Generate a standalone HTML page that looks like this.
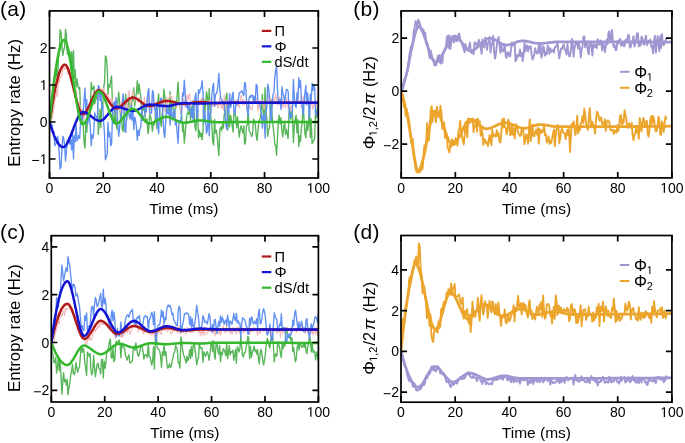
<!DOCTYPE html>
<html><head><meta charset="utf-8"><style>
html,body{margin:0;padding:0;background:#fff;width:685px;height:443px;overflow:hidden}
svg{display:block;filter:blur(0.35px)}
text{font-family:"Liberation Sans", sans-serif}
</style></head><body>
<svg width="685" height="443" viewBox="0 0 685 443" font-family="Liberation Sans, sans-serif" fill="#000"><defs>
<clipPath id="clipa"><rect x="49.5" y="10.9" width="268.80" height="167.10"/></clipPath>
<clipPath id="clipb"><rect x="401.2" y="10.9" width="270.70" height="167.00"/></clipPath>
<clipPath id="clipc"><rect x="51.3" y="235.7" width="267.10" height="166.30"/></clipPath>
<clipPath id="clipd"><rect x="401.0" y="235.5" width="270.90" height="166.70"/></clipPath>
</defs>
<polyline clip-path="url(#clipa)" points="49.5,122.4 50.4,120.9 51.3,118.1 52.2,115.2 53.0,103.5 53.9,98.7 54.8,76.9 55.7,76.0 56.6,69.9 57.5,82.4 58.4,59.5 59.3,49.0 60.1,29.6 61.0,32.0 61.9,46.1 62.8,55.5 63.7,50.4 64.6,46.5 65.5,29.4 66.4,35.2 67.2,53.0 68.1,55.1 69.0,52.6 69.9,52.0 70.8,63.4 71.7,51.7 72.6,70.8 73.5,50.7 74.3,78.4 75.2,69.6 76.1,86.8 77.0,78.9 77.9,86.2 78.8,88.9 79.7,87.3 80.5,109.8 81.4,116.1 82.3,111.3 83.2,126.1 84.1,142.6 85.0,148.1 85.9,121.4 86.8,132.3 87.6,116.7 88.5,118.8 89.4,119.2 90.3,111.2 91.2,82.3 92.1,89.3 93.0,89.2 93.9,86.0 94.7,103.9 95.6,99.6 96.5,98.1 97.4,92.2 98.3,134.4 99.2,123.3 100.1,109.3 100.9,127.4 101.8,102.4 102.7,108.2 103.6,88.3 104.5,82.6 105.4,55.9 106.3,57.9 107.2,67.5 108.0,94.2 108.9,84.6 109.8,87.3 110.7,80.2 111.6,75.9 112.5,108.5 113.4,123.4 114.3,123.6 115.1,109.9 116.0,123.9 116.9,129.0 117.8,102.5 118.7,91.9 119.6,102.8 120.5,117.1 121.4,109.6 122.2,128.8 123.1,131.6 124.0,117.5 124.9,102.7 125.8,94.5 126.7,120.0 127.6,109.3 128.4,103.9 129.3,96.1 130.2,110.8 131.1,118.1 132.0,96.9 132.9,100.6 133.8,87.8 134.7,106.1 135.5,98.1 136.4,93.5 137.3,80.8 138.2,93.8 139.1,84.0 140.0,91.6 140.9,96.6 141.8,114.3 142.6,109.5 143.5,110.1 144.4,104.0 145.3,119.4 146.2,121.0 147.1,118.8 148.0,133.5 148.8,129.3 149.7,114.6 150.6,116.7 151.5,121.8 152.4,131.3 153.3,124.1 154.2,125.0 155.1,120.1 155.9,106.0 156.8,128.3 157.7,101.9 158.6,94.0 159.5,109.9 160.4,121.2 161.3,126.4 162.2,114.5 163.0,107.8 163.9,88.9 164.8,96.0 165.7,108.6 166.6,113.1 167.5,112.9 168.4,106.0 169.3,111.6 170.1,91.7 171.0,114.8 171.9,103.0 172.8,103.9 173.7,116.1 174.6,117.5 175.5,101.2 176.3,107.9 177.2,93.7 178.1,81.9 179.0,102.4 179.9,106.4 180.8,112.5 181.7,115.1 182.6,131.5 183.4,124.8 184.3,143.1 185.2,133.8 186.1,122.1 187.0,114.6 187.9,112.0 188.8,114.3 189.7,106.1 190.5,119.7 191.4,106.8 192.3,117.1 193.2,100.3 194.1,113.6 195.0,126.5 195.9,130.8 196.7,113.1 197.6,109.2 198.5,138.0 199.4,130.6 200.3,136.6 201.2,133.2 202.1,139.6 203.0,130.0 203.8,99.3 204.7,113.2 205.6,104.3 206.5,91.6 207.4,96.6 208.3,117.1 209.2,88.6 210.1,109.1 210.9,117.8 211.8,125.4 212.7,141.2 213.6,145.1 214.5,119.4 215.4,133.1 216.3,130.1 217.2,136.5 218.0,146.2 218.9,155.6 219.8,129.8 220.7,127.2 221.6,130.7 222.5,124.1 223.4,128.1 224.2,114.1 225.1,115.9 226.0,97.7 226.9,92.9 227.8,130.0 228.7,110.8 229.6,126.8 230.5,115.1 231.3,118.9 232.2,125.9 233.1,132.0 234.0,111.1 234.9,111.2 235.8,118.1 236.7,127.7 237.6,116.7 238.4,127.6 239.3,137.0 240.2,130.1 241.1,125.6 242.0,129.7 242.9,133.1 243.8,125.9 244.6,144.3 245.5,142.3 246.4,126.0 247.3,125.3 248.2,108.4 249.1,130.7 250.0,132.2 250.9,134.1 251.7,136.5 252.6,133.9 253.5,119.2 254.4,120.6 255.3,123.7 256.2,135.5 257.1,140.5 258.0,130.3 258.8,121.7 259.7,119.2 260.6,117.2 261.5,108.4 262.4,94.1 263.3,114.3 264.2,115.6 265.1,87.8 265.9,112.6 266.8,119.1 267.7,136.3 268.6,129.1 269.5,128.0 270.4,108.6 271.3,100.2 272.1,116.4 273.0,125.7 273.9,133.4 274.8,144.3 275.7,145.5 276.6,155.3 277.5,136.7 278.4,119.7 279.2,115.1 280.1,123.9 281.0,117.9 281.9,131.2 282.8,136.8 283.7,127.2 284.6,122.5 285.5,134.5 286.3,129.4 287.2,133.8 288.1,138.6 289.0,113.6 289.9,107.9 290.8,119.2 291.7,111.2 292.5,115.2 293.4,142.5 294.3,126.9 295.2,119.2 296.1,115.1 297.0,132.9 297.9,119.5 298.8,146.3 299.6,135.9 300.5,141.7 301.4,128.2 302.3,120.7 303.2,103.5 304.1,120.8 305.0,134.2 305.9,137.8 306.7,122.2 307.6,130.5 308.5,124.1 309.4,105.5 310.3,137.5 311.2,119.0 312.1,143.8 313.0,141.2 313.8,140.4 314.7,138.5 315.6,109.1 316.5,117.8 317.4,107.6 318.3,111.2" fill="none" stroke="#55b557" stroke-width="1.35" stroke-linejoin="round" stroke-opacity="1.0"/>
<polyline clip-path="url(#clipa)" points="49.5,122.0 50.4,120.7 51.3,120.7 52.2,118.5 53.0,112.8 53.9,108.4 54.8,100.5 55.7,97.8 56.6,90.6 57.5,96.5 58.4,79.4 59.3,82.7 60.1,76.6 61.0,77.0 61.9,75.4 62.8,69.9 63.7,66.7 64.6,69.5 65.5,68.4 66.4,64.6 67.2,70.9 68.1,74.3 69.0,67.8 69.9,74.0 70.8,81.4 71.7,79.6 72.6,81.2 73.5,87.5 74.3,92.2 75.2,89.5 76.1,89.5 77.0,97.8 77.9,103.4 78.8,102.0 79.7,103.7 80.5,110.7 81.4,109.5 82.3,109.2 83.2,115.9 84.1,119.2 85.0,114.3 85.9,114.3 86.8,109.9 87.6,118.9 88.5,114.8 89.4,113.9 90.3,116.0 91.2,106.0 92.1,102.2 93.0,105.6 93.9,94.3 94.7,94.7 95.6,93.7 96.5,92.9 97.4,89.0 98.3,97.8 99.2,88.4 100.1,87.9 100.9,98.2 101.8,89.0 102.7,92.1 103.6,88.1 104.5,94.5 105.4,93.6 106.3,93.2 107.2,99.9 108.0,94.6 108.9,99.1 109.8,97.8 110.7,103.8 111.6,97.8 112.5,101.2 113.4,105.9 114.3,103.2 115.1,101.2 116.0,99.4 116.9,115.3 117.8,104.2 118.7,106.1 119.6,108.5 120.5,112.4 121.4,101.4 122.2,112.5 123.1,103.3 124.0,99.1 124.9,111.9 125.8,104.9 126.7,108.8 127.6,100.7 128.4,93.8 129.3,90.6 130.2,107.9 131.1,101.6 132.0,95.0 132.9,90.4 133.8,95.7 134.7,101.1 135.5,96.2 136.4,97.9 137.3,99.1 138.2,102.1 139.1,97.3 140.0,98.3 140.9,100.8 141.8,102.1 142.6,107.8 143.5,104.7 144.4,97.4 145.3,104.7 146.2,111.2 147.1,98.6 148.0,102.9 148.8,95.8 149.7,105.7 150.6,108.3 151.5,112.9 152.4,99.7 153.3,94.4 154.2,109.5 155.1,108.4 155.9,102.2 156.8,108.6 157.7,105.6 158.6,105.6 159.5,102.6 160.4,98.0 161.3,102.7 162.2,98.1 163.0,104.0 163.9,100.2 164.8,111.4 165.7,108.0 166.6,97.3 167.5,103.7 168.4,98.2 169.3,98.4 170.1,94.8 171.0,97.3 171.9,96.5 172.8,101.9 173.7,104.9 174.6,105.2 175.5,104.3 176.3,107.5 177.2,105.1 178.1,103.2 179.0,101.8 179.9,104.7 180.8,112.3 181.7,103.9 182.6,102.6 183.4,98.7 184.3,101.2 185.2,106.9 186.1,107.2 187.0,94.5 187.9,100.2 188.8,95.2 189.7,93.7 190.5,107.2 191.4,101.5 192.3,101.0 193.2,100.4 194.1,100.4 195.0,101.8 195.9,101.8 196.7,109.4 197.6,103.1 198.5,105.7 199.4,101.6 200.3,104.2 201.2,99.2 202.1,98.3 203.0,100.6 203.8,100.6 204.7,101.7 205.6,104.2 206.5,103.0 207.4,104.6 208.3,100.6 209.2,102.4 210.1,99.9 210.9,108.8 211.8,98.7 212.7,106.3 213.6,106.3 214.5,103.9 215.4,105.6 216.3,101.8 217.2,105.7 218.0,108.0 218.9,107.0 219.8,97.1 220.7,102.9 221.6,108.4 222.5,103.1 223.4,110.2 224.2,94.9 225.1,110.0 226.0,100.8 226.9,100.5 227.8,109.6 228.7,101.6 229.6,98.4 230.5,100.8 231.3,101.7 232.2,98.6 233.1,102.1 234.0,101.3 234.9,103.4 235.8,99.9 236.7,107.0 237.6,99.2 238.4,105.0 239.3,107.7 240.2,101.1 241.1,95.1 242.0,98.4 242.9,105.1 243.8,99.6 244.6,104.8 245.5,103.3 246.4,102.4 247.3,113.2 248.2,101.9 249.1,107.4 250.0,105.9 250.9,109.4 251.7,109.6 252.6,107.0 253.5,99.1 254.4,95.3 255.3,102.9 256.2,97.9 257.1,103.9 258.0,111.3 258.8,102.1 259.7,100.8 260.6,104.7 261.5,101.4 262.4,100.2 263.3,106.6 264.2,109.4 265.1,103.7 265.9,103.7 266.8,104.3 267.7,98.4 268.6,95.1 269.5,104.6 270.4,99.6 271.3,98.6 272.1,99.6 273.0,98.1 273.9,104.5 274.8,99.5 275.7,93.8 276.6,99.2 277.5,105.5 278.4,100.1 279.2,97.2 280.1,101.1 281.0,105.3 281.9,95.9 282.8,108.3 283.7,100.5 284.6,102.8 285.5,108.0 286.3,97.4 287.2,101.2 288.1,107.9 289.0,100.1 289.9,104.7 290.8,111.2 291.7,105.8 292.5,101.6 293.4,100.0 294.3,102.0 295.2,102.6 296.1,100.7 297.0,103.7 297.9,97.6 298.8,102.1 299.6,101.5 300.5,100.4 301.4,107.4 302.3,105.9 303.2,96.1 304.1,101.3 305.0,104.0 305.9,101.3 306.7,104.9 307.6,101.5 308.5,105.7 309.4,101.6 310.3,109.7 311.2,96.9 312.1,105.0 313.0,109.7 313.8,103.7 314.7,104.4 315.6,102.1 316.5,107.7 317.4,101.0 318.3,92.2" fill="none" stroke="#f3b5b7" stroke-width="1.1" stroke-linejoin="round" stroke-opacity="1.0"/>
<polyline clip-path="url(#clipa)" points="49.5,121.6 50.4,121.8 51.3,124.6 52.2,125.3 53.0,131.3 53.9,131.6 54.8,145.6 55.7,143.8 56.6,142.7 57.5,136.1 58.4,141.9 59.3,155.7 60.1,169.0 61.0,166.9 61.9,151.3 62.8,136.4 63.7,138.2 64.6,145.0 65.5,161.0 66.4,151.4 67.2,139.9 68.1,141.2 69.0,137.2 69.9,144.0 70.8,140.1 71.7,149.9 72.6,132.5 73.5,158.9 74.3,135.8 75.2,141.9 76.1,124.7 77.0,140.9 77.9,139.2 78.8,135.1 79.7,138.4 80.5,122.8 81.4,115.3 82.3,119.9 83.2,111.7 84.1,98.5 85.0,88.2 85.9,114.9 86.8,99.5 87.6,124.2 88.5,118.1 89.4,116.8 90.3,126.8 91.2,145.6 92.1,134.9 93.0,138.3 93.9,130.2 94.7,112.8 95.6,116.0 96.5,116.8 97.4,118.8 98.3,85.4 99.2,87.0 100.1,100.6 100.9,92.8 101.8,108.7 102.7,105.9 103.6,121.8 104.5,133.8 105.4,159.8 106.3,157.3 107.2,154.4 108.0,122.4 108.9,136.5 109.8,132.5 110.7,145.6 111.6,143.9 112.5,114.7 113.4,104.5 114.3,101.7 115.1,113.3 116.0,97.5 116.9,108.3 117.8,123.8 118.7,136.2 119.6,127.7 120.5,117.3 121.4,113.8 122.2,105.7 123.1,93.7 124.0,103.6 124.9,131.1 125.8,132.4 126.7,110.9 127.6,113.3 128.4,111.9 129.3,116.5 130.2,119.1 131.1,105.5 132.0,120.1 132.9,111.9 133.8,129.8 134.7,117.1 135.5,120.1 136.4,126.4 137.3,140.3 138.2,130.3 139.1,135.3 140.0,128.7 140.9,126.2 141.8,109.8 142.6,120.3 143.5,116.6 144.4,115.4 145.3,107.2 146.2,112.2 147.1,101.8 148.0,91.4 148.8,88.5 149.7,113.1 150.6,113.6 151.5,113.1 152.4,90.4 153.3,92.3 154.2,106.4 155.1,110.2 155.9,118.2 156.8,102.3 157.7,125.7 158.6,133.6 159.5,114.8 160.4,98.8 161.3,98.3 162.2,105.6 163.0,118.2 163.9,133.3 164.8,137.4 165.7,121.4 166.6,106.3 167.5,112.8 168.4,114.2 169.3,108.8 170.1,125.1 171.0,104.6 171.9,115.5 172.8,120.0 173.7,110.8 174.6,109.7 175.5,125.1 176.3,121.7 177.2,133.4 178.1,143.3 179.0,121.4 179.9,120.4 180.8,121.8 181.7,110.8 182.6,93.1 183.4,96.0 184.3,80.1 185.2,95.1 186.1,107.1 187.0,101.9 187.9,110.3 188.8,102.9 189.7,109.6 190.5,109.5 191.4,116.8 192.3,105.9 193.2,122.1 194.1,108.7 195.0,97.3 195.9,93.0 196.7,118.3 197.6,115.9 198.5,89.7 199.4,93.0 200.3,89.6 201.2,87.9 202.1,80.7 203.0,92.6 203.8,123.3 204.7,110.5 205.6,121.9 206.5,133.4 207.4,130.0 208.3,105.5 209.2,135.8 210.1,112.9 210.9,113.0 211.8,95.3 212.7,87.2 213.6,83.2 214.5,106.5 215.4,94.5 216.3,93.7 217.2,91.2 218.0,83.8 218.9,73.4 219.8,89.3 220.7,97.8 221.6,99.7 222.5,100.9 223.4,104.1 224.2,102.8 225.1,116.0 226.0,125.2 226.9,129.7 227.8,101.5 228.7,112.8 229.6,93.6 230.5,107.6 231.3,104.8 232.2,94.7 233.1,92.1 234.0,112.2 234.9,114.2 235.8,103.8 236.7,101.3 237.6,104.5 238.4,99.4 239.3,92.6 240.2,93.0 241.1,91.5 242.0,90.7 242.9,93.9 243.8,95.7 244.6,82.5 245.5,83.0 246.4,98.4 247.3,109.9 248.2,115.5 249.1,98.7 250.0,95.7 250.9,97.3 251.7,95.1 252.6,95.1 253.5,101.9 254.4,96.6 255.3,101.1 256.2,84.4 257.1,85.4 258.0,103.0 258.8,102.4 259.7,103.6 260.6,109.5 261.5,115.0 262.4,128.1 263.3,114.4 264.2,115.8 265.1,138.0 265.9,113.1 266.8,107.2 267.7,84.1 268.6,87.9 269.5,98.6 270.4,113.1 271.3,120.4 272.1,105.2 273.0,94.4 273.9,93.1 274.8,77.2 275.7,70.2 276.6,65.9 277.5,90.8 278.4,102.3 279.2,104.0 280.1,99.2 281.0,109.4 281.9,86.7 282.8,93.5 283.7,95.4 284.6,102.3 285.5,95.5 286.3,90.0 287.2,89.4 288.1,91.3 289.0,108.5 289.9,118.7 290.8,113.9 291.7,116.6 292.5,108.4 293.4,79.5 294.3,97.1 295.2,105.4 296.1,107.6 297.0,92.8 297.9,100.1 298.8,77.8 299.6,87.6 300.5,80.7 301.4,101.2 302.3,107.1 303.2,114.6 304.1,102.5 305.0,91.8 305.9,85.5 306.7,104.7 307.6,93.0 308.5,103.5 309.4,118.0 310.3,94.2 311.2,100.0 312.1,83.2 313.0,90.5 313.8,85.3 314.7,87.9 315.6,115.0 316.5,111.9 317.4,115.5 318.3,102.9" fill="none" stroke="#5f8ff2" stroke-width="1.35" stroke-linejoin="round" stroke-opacity="1.0"/>
<polyline clip-path="url(#clipa)" points="49.5,122.0 50.0,118.4 50.6,114.9 51.1,111.5 51.7,108.2 52.2,105.0 52.7,101.9 53.3,98.9 53.8,96.0 54.3,93.2 54.9,90.5 55.4,88.0 56.0,85.5 56.5,83.2 57.0,81.0 57.6,78.9 58.1,76.9 58.6,75.1 59.2,73.4 59.7,71.9 60.3,70.5 60.8,69.2 61.3,68.1 61.9,67.1 62.4,66.3 62.9,65.7 63.5,65.2 64.0,64.8 64.6,64.7 65.1,64.7 65.6,64.9 66.2,65.4 66.7,66.2 67.2,67.1 67.8,68.2 68.3,69.5 68.9,71.0 69.4,72.6 69.9,74.4 70.5,76.2 71.0,78.2 71.5,80.2 72.1,82.3 72.6,84.5 73.2,86.7 73.7,88.9 74.2,91.1 74.8,93.3 75.3,95.5 75.8,97.6 76.4,99.7 76.9,101.7 77.5,103.6 78.0,105.4 78.5,107.1 79.1,108.6 79.6,110.0 80.1,111.2 80.7,112.3 81.2,113.1 81.8,113.7 82.3,114.1 82.8,114.2 83.4,114.1 83.9,113.9 84.4,113.5 85.0,113.0 85.5,112.4 86.1,111.7 86.6,110.8 87.1,109.9 87.7,108.9 88.2,107.8 88.7,106.7 89.3,105.5 89.8,104.3 90.4,103.1 90.9,101.9 91.4,100.7 92.0,99.5 92.5,98.3 93.0,97.2 93.6,96.1 94.1,95.0 94.7,94.1 95.2,93.2 95.7,92.4 96.3,91.7 96.8,91.1 97.3,90.7 97.9,90.4 98.4,90.2 99.0,90.2 99.5,90.3 100.0,90.5 100.6,90.8 101.1,91.1 101.6,91.6 102.2,92.1 102.7,92.6 103.3,93.3 103.8,93.9 104.3,94.6 104.9,95.4 105.4,96.2 105.9,97.0 106.5,97.8 107.0,98.6 107.6,99.5 108.1,100.3 108.6,101.1 109.2,101.9 109.7,102.7 110.2,103.5 110.8,104.2 111.3,104.9 111.9,105.6 112.4,106.1 112.9,106.7 113.5,107.2 114.0,107.6 114.5,107.9 115.1,108.1 115.6,108.3 116.2,108.3 116.7,108.3 117.2,108.2 117.8,108.0 118.3,107.8 118.9,107.6 119.4,107.3 119.9,106.9 120.5,106.5 121.0,106.1 121.5,105.7 122.1,105.2 122.6,104.7 123.2,104.2 123.7,103.7 124.2,103.2 124.8,102.7 125.3,102.2 125.8,101.7 126.4,101.2 126.9,100.7 127.5,100.2 128.0,99.8 128.5,99.4 129.1,99.0 129.6,98.6 130.1,98.3 130.7,98.1 131.2,97.9 131.8,97.7 132.3,97.6 132.8,97.6 133.4,97.6 133.9,97.7 134.4,97.8 135.0,98.0 135.5,98.2 136.1,98.5 136.6,98.8 137.1,99.1 137.7,99.4 138.2,99.8 138.7,100.2 139.3,100.6 139.8,101.0 140.4,101.4 140.9,101.8 141.4,102.3 142.0,102.7 142.5,103.1 143.0,103.5 143.6,103.9 144.1,104.3 144.7,104.6 145.2,104.9 145.7,105.2 146.3,105.5 146.8,105.7 147.3,105.9 147.9,106.0 148.4,106.1 149.0,106.1 149.5,106.1 150.0,106.0 150.6,106.0 151.1,105.9 151.6,105.8 152.2,105.6 152.7,105.5 153.3,105.3 153.8,105.1 154.3,104.9 154.9,104.7 155.4,104.5 155.9,104.3 156.5,104.0 157.0,103.8 157.6,103.6 158.1,103.3 158.6,103.1 159.2,102.8 159.7,102.6 160.2,102.4 160.8,102.2 161.3,102.0 161.9,101.8 162.4,101.6 162.9,101.4 163.5,101.3 164.0,101.2 164.5,101.1 165.1,101.0 165.6,100.9 166.2,100.9 166.7,100.9 167.2,100.9 167.8,101.0 168.3,101.0 168.8,101.1 169.4,101.1 169.9,101.2 170.5,101.3 171.0,101.4 171.5,101.6 172.1,101.7 172.6,101.8 173.1,101.9 173.7,102.1 174.2,102.2 174.8,102.4 175.3,102.5 175.8,102.6 176.4,102.8 176.9,102.9 177.4,103.0 178.0,103.2 178.5,103.3 179.1,103.4 179.6,103.5 180.1,103.6 180.7,103.7 181.2,103.7 181.7,103.8 182.3,103.8 182.8,103.9 183.4,103.9 183.9,103.9 184.4,103.8 185.0,103.8 185.5,103.8 186.1,103.7 186.6,103.7 187.1,103.6 187.7,103.6 188.2,103.5 188.7,103.4 189.3,103.3 189.8,103.3 190.4,103.2 190.9,103.1 191.4,103.0 192.0,102.9 192.5,102.8 193.0,102.7 193.6,102.6 194.1,102.6 194.7,102.5 195.2,102.4 195.7,102.3 196.3,102.3 196.8,102.2 197.3,102.1 197.9,102.1 198.4,102.1 199.0,102.0 199.5,102.0 200.0,102.0 200.6,102.0 201.1,102.0 201.6,102.1 202.2,102.1 202.7,102.1 203.3,102.1 203.8,102.2 204.3,102.2 204.9,102.3 205.4,102.3 205.9,102.4 206.5,102.4 207.0,102.5 207.6,102.5 208.1,102.6 208.6,102.6 209.2,102.7 209.7,102.7 210.2,102.8 210.8,102.8 211.3,102.9 211.9,102.9 212.4,103.0 212.9,103.0 213.5,103.0 214.0,103.1 214.5,103.1 215.1,103.1 215.6,103.1 216.2,103.1 216.7,103.1 217.2,103.1 217.8,103.1 218.3,103.1 218.8,103.1 219.4,103.1 219.9,103.1 220.5,103.1 221.0,103.1 221.5,103.1 222.1,103.1 222.6,103.1 223.1,103.0 223.7,103.0 224.2,103.0 224.8,103.0 225.3,103.0 225.8,103.0 226.4,103.0 226.9,102.9 227.4,102.9 228.0,102.9 228.5,102.9 229.1,102.9 229.6,102.9 230.1,102.9 230.7,102.9 231.2,102.8 231.7,102.8 232.3,102.8 232.8,102.8 233.4,102.8 233.9,102.8 234.4,102.8 235.0,102.8 235.5,102.8 236.0,102.8 236.6,102.8 237.1,102.8 237.7,102.8 238.2,102.8 238.7,102.8 239.3,102.8 239.8,102.8 240.3,102.8 240.9,102.8 241.4,102.8 242.0,102.8 242.5,102.8 243.0,102.8 243.6,102.8 244.1,102.8 244.6,102.8 245.2,102.8 245.7,102.8 246.3,102.8 246.8,102.8 247.3,102.8 247.9,102.8 248.4,102.8 248.9,102.8 249.5,102.8 250.0,102.8 250.6,102.8 251.1,102.8 251.6,102.8 252.2,102.8 252.7,102.8 253.3,102.8 253.8,102.8 254.3,102.8 254.9,102.8 255.4,102.8 255.9,102.8 256.5,102.8 257.0,102.8 257.6,102.8 258.1,102.8 258.6,102.8 259.2,102.8 259.7,102.8 260.2,102.8 260.8,102.8 261.3,102.8 261.9,102.8 262.4,102.8 262.9,102.8 263.5,102.8 264.0,102.8 264.5,102.8 265.1,102.8 265.6,102.8 266.2,102.8 266.7,102.8 267.2,102.8 267.8,102.8 268.3,102.8 268.8,102.8 269.4,102.8 269.9,102.8 270.5,102.8 271.0,102.8 271.5,102.8 272.1,102.8 272.6,102.8 273.1,102.8 273.7,102.8 274.2,102.8 274.8,102.8 275.3,102.8 275.8,102.8 276.4,102.8 276.9,102.8 277.4,102.8 278.0,102.8 278.5,102.8 279.1,102.8 279.6,102.8 280.1,102.8 280.7,102.8 281.2,102.8 281.7,102.8 282.3,102.8 282.8,102.8 283.4,102.8 283.9,102.8 284.4,102.8 285.0,102.8 285.5,102.8 286.0,102.8 286.6,102.8 287.1,102.8 287.7,102.8 288.2,102.8 288.7,102.8 289.3,102.8 289.8,102.8 290.3,102.8 290.9,102.8 291.4,102.8 292.0,102.8 292.5,102.8 293.0,102.8 293.6,102.8 294.1,102.8 294.6,102.8 295.2,102.8 295.7,102.8 296.3,102.8 296.8,102.8 297.3,102.8 297.9,102.8 298.4,102.8 298.9,102.8 299.5,102.8 300.0,102.8 300.6,102.8 301.1,102.8 301.6,102.8 302.2,102.8 302.7,102.8 303.2,102.8 303.8,102.8 304.3,102.8 304.9,102.8 305.4,102.8 305.9,102.8 306.5,102.8 307.0,102.8 307.5,102.8 308.1,102.8 308.6,102.8 309.2,102.8 309.7,102.8 310.2,102.8 310.8,102.8 311.3,102.8 311.8,102.8 312.4,102.8 312.9,102.8 313.5,102.8 314.0,102.8 314.5,102.8 315.1,102.8 315.6,102.8 316.1,102.8 316.7,102.8 317.2,102.8 317.8,102.8 318.3,102.8" fill="none" stroke="#b01a1a" stroke-width="2.5" stroke-linejoin="round" stroke-opacity="1.0"/>
<polyline clip-path="url(#clipa)" points="49.5,122.0 50.0,123.8 50.6,125.5 51.1,127.1 51.7,128.7 52.2,130.3 52.7,131.8 53.3,133.2 53.8,134.6 54.3,135.9 54.9,137.2 55.4,138.4 56.0,139.5 56.5,140.5 57.0,141.5 57.6,142.4 58.1,143.3 58.6,144.0 59.2,144.7 59.7,145.3 60.3,145.8 60.8,146.3 61.3,146.6 61.9,146.9 62.4,147.1 62.9,147.1 63.5,147.1 64.0,147.0 64.6,146.7 65.1,146.3 65.6,145.7 66.2,145.0 66.7,144.2 67.2,143.3 67.8,142.3 68.3,141.3 68.9,140.1 69.4,138.9 69.9,137.6 70.5,136.3 71.0,134.9 71.5,133.5 72.1,132.1 72.6,130.7 73.2,129.2 73.7,127.8 74.2,126.4 74.8,124.9 75.3,123.6 75.8,122.2 76.4,120.9 76.9,119.7 77.5,118.5 78.0,117.4 78.5,116.3 79.1,115.4 79.6,114.5 80.1,113.8 80.7,113.2 81.2,112.7 81.8,112.3 82.3,112.1 82.8,112.0 83.4,112.0 83.9,112.1 84.4,112.2 85.0,112.4 85.5,112.6 86.1,112.8 86.6,113.1 87.1,113.4 87.7,113.7 88.2,114.1 88.7,114.4 89.3,114.8 89.8,115.2 90.4,115.6 90.9,116.0 91.4,116.5 92.0,116.9 92.5,117.3 93.0,117.7 93.6,118.1 94.1,118.5 94.7,118.8 95.2,119.2 95.7,119.5 96.3,119.8 96.8,120.1 97.3,120.3 97.9,120.5 98.4,120.7 99.0,120.8 99.5,120.9 100.0,120.9 100.6,120.8 101.1,120.7 101.6,120.5 102.2,120.2 102.7,119.9 103.3,119.5 103.8,119.1 104.3,118.6 104.9,118.0 105.4,117.4 105.9,116.8 106.5,116.2 107.0,115.5 107.6,114.9 108.1,114.2 108.6,113.5 109.2,112.8 109.7,112.2 110.2,111.5 110.8,110.9 111.3,110.3 111.9,109.7 112.4,109.2 112.9,108.7 113.5,108.2 114.0,107.8 114.5,107.5 115.1,107.2 115.6,107.0 116.2,106.9 116.7,106.8 117.2,106.8 117.8,106.9 118.3,106.9 118.9,107.0 119.4,107.1 119.9,107.3 120.5,107.4 121.0,107.5 121.5,107.7 122.1,107.9 122.6,108.1 123.2,108.3 123.7,108.5 124.2,108.7 124.8,108.9 125.3,109.1 125.8,109.3 126.4,109.5 126.9,109.7 127.5,109.8 128.0,110.0 128.5,110.2 129.1,110.3 129.6,110.5 130.1,110.6 130.7,110.7 131.2,110.8 131.8,110.8 132.3,110.9 132.8,110.9 133.4,110.9 133.9,110.8 134.4,110.7 135.0,110.6 135.5,110.5 136.1,110.3 136.6,110.1 137.1,109.9 137.7,109.6 138.2,109.4 138.7,109.1 139.3,108.8 139.8,108.5 140.4,108.2 140.9,107.9 141.4,107.6 142.0,107.3 142.5,107.0 143.0,106.7 143.6,106.4 144.1,106.2 144.7,105.9 145.2,105.7 145.7,105.4 146.3,105.2 146.8,105.0 147.3,104.9 147.9,104.8 148.4,104.7 149.0,104.6 149.5,104.6 150.0,104.6 150.6,104.6 151.1,104.6 151.6,104.7 152.2,104.7 152.7,104.8 153.3,104.8 153.8,104.8 154.3,104.9 154.9,105.0 155.4,105.0 155.9,105.1 156.5,105.2 157.0,105.2 157.6,105.3 158.1,105.4 158.6,105.4 159.2,105.5 159.7,105.6 160.2,105.6 160.8,105.7 161.3,105.8 161.9,105.8 162.4,105.9 162.9,105.9 163.5,106.0 164.0,106.0 164.5,106.0 165.1,106.1 165.6,106.1 166.2,106.1 166.7,106.1 167.2,106.1 167.8,106.0 168.3,106.0 168.8,105.9 169.4,105.9 169.9,105.8 170.5,105.7 171.0,105.6 171.5,105.5 172.1,105.4 172.6,105.2 173.1,105.1 173.7,105.0 174.2,104.8 174.8,104.7 175.3,104.6 175.8,104.4 176.4,104.3 176.9,104.2 177.4,104.0 178.0,103.9 178.5,103.8 179.1,103.7 179.6,103.6 180.1,103.5 180.7,103.4 181.2,103.3 181.7,103.3 182.3,103.2 182.8,103.2 183.4,103.1 183.9,103.1 184.4,103.1 185.0,103.1 185.5,103.1 186.1,103.1 186.6,103.2 187.1,103.2 187.7,103.2 188.2,103.2 188.7,103.2 189.3,103.2 189.8,103.2 190.4,103.3 190.9,103.3 191.4,103.3 192.0,103.3 192.5,103.3 193.0,103.4 193.6,103.4 194.1,103.4 194.7,103.4 195.2,103.4 195.7,103.4 196.3,103.4 196.8,103.5 197.3,103.5 197.9,103.5 198.4,103.5 199.0,103.5 199.5,103.5 200.0,103.5 200.6,103.5 201.1,103.5 201.6,103.5 202.2,103.5 202.7,103.5 203.3,103.5 203.8,103.5 204.3,103.4 204.9,103.4 205.4,103.4 205.9,103.4 206.5,103.4 207.0,103.4 207.6,103.3 208.1,103.3 208.6,103.3 209.2,103.3 209.7,103.2 210.2,103.2 210.8,103.2 211.3,103.2 211.9,103.1 212.4,103.1 212.9,103.1 213.5,103.1 214.0,103.0 214.5,103.0 215.1,103.0 215.6,103.0 216.2,103.0 216.7,102.9 217.2,102.9 217.8,102.9 218.3,102.9 218.8,102.9 219.4,102.8 219.9,102.8 220.5,102.8 221.0,102.8 221.5,102.8 222.1,102.8 222.6,102.8 223.1,102.8 223.7,102.8 224.2,102.8 224.8,102.8 225.3,102.8 225.8,102.8 226.4,102.8 226.9,102.8 227.4,102.8 228.0,102.8 228.5,102.8 229.1,102.8 229.6,102.8 230.1,102.8 230.7,102.8 231.2,102.8 231.7,102.8 232.3,102.8 232.8,102.8 233.4,102.8 233.9,102.8 234.4,102.8 235.0,102.8 235.5,102.8 236.0,102.8 236.6,102.8 237.1,102.8 237.7,102.8 238.2,102.8 238.7,102.8 239.3,102.8 239.8,102.8 240.3,102.8 240.9,102.8 241.4,102.8 242.0,102.8 242.5,102.8 243.0,102.8 243.6,102.8 244.1,102.8 244.6,102.8 245.2,102.8 245.7,102.8 246.3,102.8 246.8,102.8 247.3,102.8 247.9,102.8 248.4,102.8 248.9,102.8 249.5,102.8 250.0,102.8 250.6,102.8 251.1,102.8 251.6,102.8 252.2,102.8 252.7,102.8 253.3,102.8 253.8,102.8 254.3,102.8 254.9,102.8 255.4,102.8 255.9,102.8 256.5,102.8 257.0,102.8 257.6,102.8 258.1,102.8 258.6,102.8 259.2,102.8 259.7,102.8 260.2,102.8 260.8,102.8 261.3,102.8 261.9,102.8 262.4,102.8 262.9,102.8 263.5,102.8 264.0,102.8 264.5,102.8 265.1,102.8 265.6,102.8 266.2,102.8 266.7,102.8 267.2,102.8 267.8,102.8 268.3,102.8 268.8,102.8 269.4,102.8 269.9,102.8 270.5,102.8 271.0,102.8 271.5,102.8 272.1,102.8 272.6,102.8 273.1,102.8 273.7,102.8 274.2,102.8 274.8,102.8 275.3,102.8 275.8,102.8 276.4,102.8 276.9,102.8 277.4,102.8 278.0,102.8 278.5,102.8 279.1,102.8 279.6,102.8 280.1,102.8 280.7,102.8 281.2,102.8 281.7,102.8 282.3,102.8 282.8,102.8 283.4,102.8 283.9,102.8 284.4,102.8 285.0,102.8 285.5,102.8 286.0,102.8 286.6,102.8 287.1,102.8 287.7,102.8 288.2,102.8 288.7,102.8 289.3,102.8 289.8,102.8 290.3,102.8 290.9,102.8 291.4,102.8 292.0,102.8 292.5,102.8 293.0,102.8 293.6,102.8 294.1,102.8 294.6,102.8 295.2,102.8 295.7,102.8 296.3,102.8 296.8,102.8 297.3,102.8 297.9,102.8 298.4,102.8 298.9,102.8 299.5,102.8 300.0,102.8 300.6,102.8 301.1,102.8 301.6,102.8 302.2,102.8 302.7,102.8 303.2,102.8 303.8,102.8 304.3,102.8 304.9,102.8 305.4,102.8 305.9,102.8 306.5,102.8 307.0,102.8 307.5,102.8 308.1,102.8 308.6,102.8 309.2,102.8 309.7,102.8 310.2,102.8 310.8,102.8 311.3,102.8 311.8,102.8 312.4,102.8 312.9,102.8 313.5,102.8 314.0,102.8 314.5,102.8 315.1,102.8 315.6,102.8 316.1,102.8 316.7,102.8 317.2,102.8 317.8,102.8 318.3,102.8" fill="none" stroke="#1414d4" stroke-width="2.5" stroke-linejoin="round" stroke-opacity="1.0"/>
<polyline clip-path="url(#clipa)" points="49.5,122.0 50.0,116.7 50.6,111.5 51.1,106.4 51.7,101.5 52.2,96.7 52.7,92.1 53.3,87.7 53.8,83.4 54.3,79.3 54.9,75.3 55.4,71.6 56.0,68.0 56.5,64.6 57.0,61.5 57.6,58.5 58.1,55.7 58.6,53.1 59.2,50.7 59.7,48.6 60.3,46.7 60.8,45.0 61.3,43.5 61.9,42.3 62.4,41.3 62.9,40.5 63.5,40.0 64.0,39.9 64.6,40.0 65.1,40.4 65.6,41.3 66.2,42.4 66.7,43.9 67.2,45.8 67.8,47.9 68.3,50.3 68.9,52.9 69.4,55.7 69.9,58.7 70.5,61.9 71.0,65.2 71.5,68.7 72.1,72.2 72.6,75.8 73.2,79.4 73.7,83.1 74.2,86.8 74.8,90.4 75.3,93.9 75.8,97.4 76.4,100.8 76.9,104.0 77.5,107.1 78.0,110.0 78.5,112.8 79.1,115.2 79.6,117.5 80.1,119.4 80.7,121.1 81.2,122.4 81.8,123.4 82.3,124.0 82.8,124.2 83.4,124.1 83.9,123.8 84.4,123.3 85.0,122.6 85.5,121.8 86.1,120.8 86.6,119.7 87.1,118.5 87.7,117.2 88.2,115.7 88.7,114.3 89.3,112.7 89.8,111.1 90.4,109.5 90.9,107.9 91.4,106.2 92.0,104.6 92.5,103.0 93.0,101.5 93.6,100.0 94.1,98.6 94.7,97.2 95.2,96.0 95.7,94.9 96.3,93.9 96.8,93.0 97.3,92.4 97.9,91.9 98.4,91.5 99.0,91.4 99.5,91.4 100.0,91.6 100.6,91.9 101.1,92.4 101.6,93.0 102.2,93.8 102.7,94.7 103.3,95.7 103.8,96.9 104.3,98.1 104.9,99.4 105.4,100.7 105.9,102.1 106.5,103.6 107.0,105.1 107.6,106.6 108.1,108.1 108.6,109.6 109.2,111.1 109.7,112.5 110.2,114.0 110.8,115.3 111.3,116.6 111.9,117.9 112.4,119.0 112.9,120.0 113.5,120.9 114.0,121.7 114.5,122.4 115.1,122.9 115.6,123.3 116.2,123.4 116.7,123.4 117.2,123.3 117.8,123.1 118.3,122.9 118.9,122.5 119.4,122.1 119.9,121.7 120.5,121.1 121.0,120.6 121.5,120.0 122.1,119.3 122.6,118.7 123.2,118.0 123.7,117.3 124.2,116.5 124.8,115.8 125.3,115.1 125.8,114.4 126.4,113.7 126.9,113.0 127.5,112.4 128.0,111.7 128.5,111.2 129.1,110.6 129.6,110.2 130.1,109.7 130.7,109.4 131.2,109.1 131.8,108.9 132.3,108.7 132.8,108.7 133.4,108.7 133.9,108.9 134.4,109.1 135.0,109.4 135.5,109.7 136.1,110.2 136.6,110.7 137.1,111.2 137.7,111.8 138.2,112.4 138.7,113.1 139.3,113.8 139.8,114.5 140.4,115.2 140.9,115.9 141.4,116.7 142.0,117.4 142.5,118.1 143.0,118.8 143.6,119.5 144.1,120.1 144.7,120.7 145.2,121.3 145.7,121.8 146.3,122.2 146.8,122.6 147.3,123.0 147.9,123.2 148.4,123.4 149.0,123.5 149.5,123.5 150.0,123.4 150.6,123.3 151.1,123.2 151.6,123.1 152.2,122.9 152.7,122.7 153.3,122.5 153.8,122.3 154.3,122.0 154.9,121.7 155.4,121.5 155.9,121.2 156.5,120.9 157.0,120.6 157.6,120.3 158.1,120.0 158.6,119.6 159.2,119.3 159.7,119.0 160.2,118.8 160.8,118.5 161.3,118.2 161.9,118.0 162.4,117.7 162.9,117.5 163.5,117.3 164.0,117.2 164.5,117.0 165.1,116.9 165.6,116.9 166.2,116.8 166.7,116.8 167.2,116.9 167.8,116.9 168.3,117.0 168.8,117.1 169.4,117.3 169.9,117.5 170.5,117.6 171.0,117.9 171.5,118.1 172.1,118.3 172.6,118.6 173.1,118.8 173.7,119.1 174.2,119.4 174.8,119.6 175.3,119.9 175.8,120.2 176.4,120.5 176.9,120.7 177.4,121.0 178.0,121.2 178.5,121.5 179.1,121.7 179.6,121.9 180.1,122.1 180.7,122.3 181.2,122.4 181.7,122.5 182.3,122.6 182.8,122.7 183.4,122.7 183.9,122.7 184.4,122.7 185.0,122.7 185.5,122.6 186.1,122.6 186.6,122.5 187.1,122.5 187.7,122.4 188.2,122.3 188.7,122.2 189.3,122.1 189.8,122.0 190.4,121.9 190.9,121.8 191.4,121.7 192.0,121.6 192.5,121.5 193.0,121.4 193.6,121.3 194.1,121.2 194.7,121.1 195.2,121.0 195.7,120.9 196.3,120.8 196.8,120.7 197.3,120.7 197.9,120.6 198.4,120.6 199.0,120.5 199.5,120.5 200.0,120.5 200.6,120.5 201.1,120.5 201.6,120.6 202.2,120.6 202.7,120.6 203.3,120.7 203.8,120.7 204.3,120.8 204.9,120.8 205.4,120.9 205.9,121.0 206.5,121.0 207.0,121.1 207.6,121.2 208.1,121.3 208.6,121.3 209.2,121.4 209.7,121.5 210.2,121.6 210.8,121.7 211.3,121.7 211.9,121.8 212.4,121.9 212.9,121.9 213.5,122.0 214.0,122.0 214.5,122.1 215.1,122.1 215.6,122.2 216.2,122.2 216.7,122.2 217.2,122.2 217.8,122.2 218.3,122.2 218.8,122.3 219.4,122.3 219.9,122.3 220.5,122.3 221.0,122.3 221.5,122.3 222.1,122.3 222.6,122.3 223.1,122.3 223.7,122.3 224.2,122.3 224.8,122.2 225.3,122.2 225.8,122.2 226.4,122.2 226.9,122.2 227.4,122.2 228.0,122.2 228.5,122.1 229.1,122.1 229.6,122.1 230.1,122.1 230.7,122.1 231.2,122.1 231.7,122.1 232.3,122.1 232.8,122.0 233.4,122.0 233.9,122.0 234.4,122.0 235.0,122.0 235.5,122.0 236.0,122.0 236.6,122.0 237.1,122.0 237.7,122.0 238.2,122.0 238.7,122.0 239.3,122.0 239.8,122.0 240.3,122.0 240.9,122.0 241.4,122.0 242.0,122.0 242.5,122.0 243.0,122.0 243.6,122.0 244.1,122.0 244.6,122.0 245.2,122.0 245.7,122.0 246.3,122.0 246.8,122.0 247.3,122.0 247.9,122.0 248.4,122.0 248.9,122.0 249.5,122.0 250.0,122.0 250.6,122.0 251.1,122.0 251.6,122.0 252.2,122.0 252.7,122.0 253.3,122.0 253.8,122.0 254.3,122.0 254.9,122.0 255.4,122.0 255.9,122.0 256.5,122.0 257.0,122.0 257.6,122.0 258.1,122.0 258.6,122.0 259.2,122.0 259.7,122.0 260.2,122.0 260.8,122.0 261.3,122.0 261.9,122.0 262.4,122.0 262.9,122.0 263.5,122.0 264.0,122.0 264.5,122.0 265.1,122.0 265.6,122.0 266.2,122.0 266.7,122.0 267.2,122.0 267.8,122.0 268.3,122.0 268.8,122.0 269.4,122.0 269.9,122.0 270.5,122.0 271.0,122.0 271.5,122.0 272.1,122.0 272.6,122.0 273.1,122.0 273.7,122.0 274.2,122.0 274.8,122.0 275.3,122.0 275.8,122.0 276.4,122.0 276.9,122.0 277.4,122.0 278.0,122.0 278.5,122.0 279.1,122.0 279.6,122.0 280.1,122.0 280.7,122.0 281.2,122.0 281.7,122.0 282.3,122.0 282.8,122.0 283.4,122.0 283.9,122.0 284.4,122.0 285.0,122.0 285.5,122.0 286.0,122.0 286.6,122.0 287.1,122.0 287.7,122.0 288.2,122.0 288.7,122.0 289.3,122.0 289.8,122.0 290.3,122.0 290.9,122.0 291.4,122.0 292.0,122.0 292.5,122.0 293.0,122.0 293.6,122.0 294.1,122.0 294.6,122.0 295.2,122.0 295.7,122.0 296.3,122.0 296.8,122.0 297.3,122.0 297.9,122.0 298.4,122.0 298.9,122.0 299.5,122.0 300.0,122.0 300.6,122.0 301.1,122.0 301.6,122.0 302.2,122.0 302.7,122.0 303.2,122.0 303.8,122.0 304.3,122.0 304.9,122.0 305.4,122.0 305.9,122.0 306.5,122.0 307.0,122.0 307.5,122.0 308.1,122.0 308.6,122.0 309.2,122.0 309.7,122.0 310.2,122.0 310.8,122.0 311.3,122.0 311.8,122.0 312.4,122.0 312.9,122.0 313.5,122.0 314.0,122.0 314.5,122.0 315.1,122.0 315.6,122.0 316.1,122.0 316.7,122.0 317.2,122.0 317.8,122.0 318.3,122.0" fill="none" stroke="#34b82c" stroke-width="2.5" stroke-linejoin="round" stroke-opacity="1.0"/>
<polyline clip-path="url(#clipb)" points="401.2,90.3 402.1,86.5 403.0,88.6 403.9,79.9 404.8,79.4 405.7,77.7 406.6,74.3 407.5,71.0 408.3,64.4 409.2,56.1 410.1,51.0 411.0,46.4 411.9,49.1 412.8,44.5 413.7,31.1 414.6,27.8 415.5,21.3 416.4,22.0 417.3,27.0 418.2,19.7 419.1,21.5 420.0,24.2 420.9,28.8 421.7,28.2 422.6,30.4 423.5,29.6 424.4,34.2 425.3,32.9 426.2,43.4 427.1,42.5 428.0,45.4 428.9,54.2 429.8,58.2 430.7,50.5 431.6,54.3 432.5,59.6 433.4,58.8 434.3,65.3 435.1,61.5 436.0,65.5 436.9,60.7 437.8,55.7 438.7,61.5 439.6,55.0 440.5,63.6 441.4,59.2 442.3,62.8 443.2,54.2 444.1,50.9 445.0,50.6 445.9,48.5 446.8,37.4 447.7,35.7 448.5,48.0 449.4,35.4 450.3,49.1 451.2,43.3 452.1,38.5 453.0,36.5 453.9,42.5 454.8,40.7 455.7,36.6 456.6,41.0 457.5,41.1 458.4,34.3 459.3,33.6 460.2,40.2 461.1,41.4 461.9,43.0 462.8,46.8 463.7,48.8 464.6,52.3 465.5,44.3 466.4,48.7 467.3,50.1 468.2,48.7 469.1,46.8 470.0,42.6 470.9,52.0 471.8,53.1 472.7,49.9 473.6,54.2 474.5,42.2 475.3,42.7 476.2,43.9 477.1,47.5 478.0,42.3 478.9,39.8 479.8,42.5 480.7,47.3 481.6,53.9 482.5,39.5 483.4,45.4 484.3,47.5 485.2,37.6 486.1,40.4 487.0,49.8 487.9,43.1 488.7,42.7 489.6,37.1 490.5,52.6 491.4,45.6 492.3,43.2 493.2,35.9 494.1,51.1 495.0,58.6 495.9,54.8 496.8,45.0 497.7,41.2 498.6,36.9 499.5,45.4 500.4,52.8 501.3,44.7 502.1,49.6 503.0,51.5 503.9,50.2 504.8,44.2 505.7,56.4 506.6,57.8 507.5,52.4 508.4,52.2 509.3,56.4 510.2,56.4 511.1,48.6 512.0,42.5 512.9,45.4 513.8,45.4 514.7,43.5 515.5,61.3 516.4,59.5 517.3,54.6 518.2,56.7 519.1,55.1 520.0,49.5 520.9,56.3 521.8,52.9 522.7,61.2 523.6,54.8 524.5,41.9 525.4,51.3 526.3,47.2 527.2,45.3 528.1,51.6 528.9,46.4 529.8,48.0 530.7,46.2 531.6,54.2 532.5,59.5 533.4,57.4 534.3,54.2 535.2,48.2 536.1,52.2 537.0,53.6 537.9,51.9 538.8,45.3 539.7,53.3 540.6,43.4 541.4,57.8 542.3,54.7 543.2,46.2 544.1,48.0 545.0,55.6 545.9,52.1 546.8,54.3 547.7,45.7 548.6,47.2 549.5,53.9 550.4,48.4 551.3,52.0 552.2,50.5 553.1,49.7 554.0,52.7 554.8,47.2 555.7,46.5 556.6,46.3 557.5,43.0 558.4,51.2 559.3,58.3 560.2,52.9 561.1,48.5 562.0,48.9 562.9,45.7 563.8,44.5 564.7,49.7 565.6,50.5 566.5,54.6 567.4,44.0 568.2,50.9 569.1,56.2 570.0,56.0 570.9,50.6 571.8,39.0 572.7,43.3 573.6,56.7 574.5,48.2 575.4,44.7 576.3,42.1 577.2,43.6 578.1,48.5 579.0,43.0 579.9,48.5 580.8,57.5 581.6,49.1 582.5,47.0 583.4,37.1 584.3,36.3 585.2,47.3 586.1,41.4 587.0,42.0 587.9,51.1 588.8,54.4 589.7,43.3 590.6,41.4 591.5,46.5 592.4,55.6 593.3,43.6 594.2,45.6 595.0,47.3 595.9,44.6 596.8,48.1 597.7,39.1 598.6,41.7 599.5,44.8 600.4,40.4 601.3,42.5 602.2,50.5 603.1,43.4 604.0,45.2 604.9,52.2 605.8,46.0 606.7,39.8 607.6,44.3 608.4,33.0 609.3,31.3 610.2,42.2 611.1,37.5 612.0,30.0 612.9,42.9 613.8,47.0 614.7,45.0 615.6,50.2 616.5,49.8 617.4,41.1 618.3,43.6 619.2,40.0 620.1,38.9 621.0,45.7 621.8,43.0 622.7,43.4 623.6,45.8 624.5,46.3 625.4,40.0 626.3,41.8 627.2,39.0 628.1,34.9 629.0,35.5 629.9,47.6 630.8,46.9 631.7,43.1 632.6,40.2 633.5,36.3 634.4,46.5 635.2,44.1 636.1,39.4 637.0,33.4 637.9,33.2 638.8,46.4 639.7,43.3 640.6,45.5 641.5,36.5 642.4,38.3 643.3,43.3 644.2,44.7 645.1,39.2 646.0,35.7 646.9,45.2 647.8,43.3 648.6,40.6 649.5,40.7 650.4,39.6 651.3,46.9 652.2,46.0 653.1,53.4 654.0,41.2 654.9,35.8 655.8,52.6 656.7,45.2 657.6,36.2 658.5,42.3 659.4,51.3 660.3,35.9 661.2,47.9 662.0,34.0 662.9,44.0 663.8,45.2 664.7,41.1 665.6,40.7 666.5,37.5" fill="none" stroke="#9f97d1" stroke-width="1.9" stroke-linejoin="round" stroke-opacity="1.0"/>
<polyline clip-path="url(#clipb)" points="401.2,91.2 401.7,89.9 402.3,88.5 402.8,86.9 403.4,85.3 403.9,83.5 404.4,81.6 405.0,79.7 405.5,77.6 406.1,75.5 406.6,73.3 407.2,71.1 407.7,68.8 408.2,66.4 408.8,63.6 409.3,60.5 409.9,57.3 410.4,54.2 410.9,51.3 411.5,48.8 412.0,46.5 412.6,44.2 413.1,41.9 413.7,39.5 414.2,37.3 414.7,35.1 415.3,33.1 415.8,31.3 416.4,29.7 416.9,28.4 417.4,27.4 418.0,26.8 418.5,26.5 419.1,26.6 419.6,27.0 420.1,27.5 420.7,28.1 421.2,29.0 421.8,29.9 422.3,31.1 422.9,32.3 423.4,33.6 423.9,35.1 424.5,36.6 425.0,38.2 425.6,39.8 426.1,41.5 426.6,43.2 427.2,44.9 427.7,46.6 428.3,48.2 428.8,49.9 429.4,51.5 429.9,53.0 430.4,54.5 431.0,55.9 431.5,57.2 432.1,58.4 432.6,59.4 433.1,60.3 433.7,61.1 434.2,61.7 434.8,62.1 435.3,62.3 435.8,62.3 436.4,62.2 436.9,61.9 437.5,61.6 438.0,61.1 438.6,60.6 439.1,59.9 439.6,59.2 440.2,58.4 440.7,57.6 441.3,56.6 441.8,55.7 442.3,54.7 442.9,53.6 443.4,52.5 444.0,51.4 444.5,50.3 445.1,49.2 445.6,48.1 446.1,47.0 446.7,45.9 447.2,44.8 447.8,43.7 448.3,42.7 448.8,41.7 449.4,40.8 449.9,40.0 450.5,39.2 451.0,38.5 451.6,37.8 452.1,37.3 452.6,36.8 453.2,36.5 453.7,36.2 454.3,36.1 454.8,36.1 455.3,36.2 455.9,36.4 456.4,36.7 457.0,37.0 457.5,37.4 458.0,37.9 458.6,38.5 459.1,39.1 459.7,39.7 460.2,40.4 460.8,41.1 461.3,41.8 461.8,42.6 462.4,43.3 462.9,44.1 463.5,44.8 464.0,45.6 464.5,46.3 465.1,47.0 465.6,47.6 466.2,48.2 466.7,48.8 467.3,49.3 467.8,49.8 468.3,50.2 468.9,50.5 469.4,50.7 470.0,50.9 470.5,50.9 471.0,50.9 471.6,50.8 472.1,50.7 472.7,50.5 473.2,50.3 473.7,50.0 474.3,49.7 474.8,49.3 475.4,48.9 475.9,48.5 476.5,48.1 477.0,47.6 477.5,47.1 478.1,46.6 478.6,46.1 479.2,45.6 479.7,45.1 480.2,44.6 480.8,44.0 481.3,43.5 481.9,43.0 482.4,42.5 483.0,42.0 483.5,41.5 484.0,41.0 484.6,40.6 485.1,40.2 485.7,39.8 486.2,39.5 486.7,39.1 487.3,38.9 487.8,38.6 488.4,38.5 488.9,38.3 489.4,38.2 490.0,38.2 490.5,38.2 491.1,38.3 491.6,38.4 492.2,38.5 492.7,38.7 493.2,38.9 493.8,39.2 494.3,39.4 494.9,39.7 495.4,40.0 495.9,40.3 496.5,40.6 497.0,41.0 497.6,41.3 498.1,41.6 498.7,42.0 499.2,42.3 499.7,42.7 500.3,43.0 500.8,43.3 501.4,43.6 501.9,43.9 502.4,44.1 503.0,44.4 503.5,44.6 504.1,44.8 504.6,44.9 505.1,45.0 505.7,45.1 506.2,45.1 506.8,45.1 507.3,45.0 507.9,45.0 508.4,44.9 508.9,44.8 509.5,44.6 510.0,44.5 510.6,44.3 511.1,44.2 511.6,44.0 512.2,43.8 512.7,43.6 513.3,43.4 513.8,43.2 514.4,43.0 514.9,42.8 515.4,42.5 516.0,42.3 516.5,42.1 517.1,41.9 517.6,41.8 518.1,41.6 518.7,41.4 519.2,41.3 519.8,41.2 520.3,41.1 520.8,41.0 521.4,40.9 521.9,40.9 522.5,40.9 523.0,40.9 523.6,40.9 524.1,40.9 524.6,41.0 525.2,41.0 525.7,41.1 526.3,41.2 526.8,41.3 527.3,41.4 527.9,41.5 528.4,41.6 529.0,41.7 529.5,41.9 530.1,42.0 530.6,42.1 531.1,42.2 531.7,42.4 532.2,42.5 532.8,42.6 533.3,42.7 533.8,42.9 534.4,43.0 534.9,43.1 535.5,43.2 536.0,43.2 536.5,43.3 537.1,43.4 537.6,43.4 538.2,43.5 538.7,43.5 539.3,43.5 539.8,43.5 540.3,43.5 540.9,43.5 541.4,43.4 542.0,43.4 542.5,43.4 543.0,43.3 543.6,43.3 544.1,43.2 544.7,43.2 545.2,43.1 545.8,43.1 546.3,43.0 546.8,42.9 547.4,42.9 547.9,42.8 548.5,42.7 549.0,42.7 549.5,42.6 550.1,42.5 550.6,42.5 551.2,42.4 551.7,42.3 552.3,42.3 552.8,42.2 553.3,42.2 553.9,42.1 554.4,42.1 555.0,42.0 555.5,42.0 556.0,42.0 556.6,41.9 557.1,41.9 557.7,41.9 558.2,41.9 558.7,41.9 559.3,41.9 559.8,41.9 560.4,41.9 560.9,41.9 561.5,41.9 562.0,41.9 562.5,41.9 563.1,41.9 563.6,41.9 564.2,41.9 564.7,41.9 565.2,41.9 565.8,41.9 566.3,41.9 566.9,41.9 567.4,41.9 568.0,41.9 568.5,41.9 569.0,41.9 569.6,41.9 570.1,41.9 570.7,41.9 571.2,41.9 571.7,41.9 572.3,41.9 572.8,41.9 573.4,41.9 573.9,41.9 574.4,41.9 575.0,41.9 575.5,41.9 576.1,41.9 576.6,41.9 577.2,41.9 577.7,41.9 578.2,41.9 578.8,41.9 579.3,41.9 579.9,41.9 580.4,41.9 580.9,41.9 581.5,41.9 582.0,41.9 582.6,41.9 583.1,41.9 583.7,41.9 584.2,41.9 584.7,41.9 585.3,41.9 585.8,41.9 586.4,41.9 586.9,41.9 587.4,41.9 588.0,41.9 588.5,41.9 589.1,41.9 589.6,41.9 590.1,41.9 590.7,41.9 591.2,41.9 591.8,41.9 592.3,41.9 592.9,41.9 593.4,41.9 593.9,41.9 594.5,41.9 595.0,41.9 595.6,41.9 596.1,41.9 596.6,41.9 597.2,41.9 597.7,41.9 598.3,41.9 598.8,41.9 599.4,41.9 599.9,41.9 600.4,41.9 601.0,41.9 601.5,41.9 602.1,41.9 602.6,41.9 603.1,41.9 603.7,41.9 604.2,41.9 604.8,41.9 605.3,41.9 605.8,41.9 606.4,41.9 606.9,41.9 607.5,41.9 608.0,41.9 608.6,41.9 609.1,41.9 609.6,41.9 610.2,41.9 610.7,41.9 611.3,41.9 611.8,41.9 612.3,41.9 612.9,41.9 613.4,41.9 614.0,41.9 614.5,41.9 615.1,41.9 615.6,41.9 616.1,41.9 616.7,41.9 617.2,41.9 617.8,41.9 618.3,41.9 618.8,42.0 619.4,42.0 619.9,42.0 620.5,42.0 621.0,42.0 621.5,42.0 622.1,42.0 622.6,42.0 623.2,42.0 623.7,42.0 624.3,42.0 624.8,42.0 625.3,42.0 625.9,42.0 626.4,42.0 627.0,42.0 627.5,42.0 628.0,42.0 628.6,42.0 629.1,42.0 629.7,42.0 630.2,42.0 630.8,42.0 631.3,42.0 631.8,42.0 632.4,42.0 632.9,42.0 633.5,42.0 634.0,42.0 634.5,42.0 635.1,42.0 635.6,42.0 636.2,42.0 636.7,42.0 637.3,42.0 637.8,42.0 638.3,42.0 638.9,42.0 639.4,42.0 640.0,42.0 640.5,42.0 641.0,42.0 641.6,42.0 642.1,42.0 642.7,42.0 643.2,42.0 643.7,42.0 644.3,42.0 644.8,42.0 645.4,42.0 645.9,42.0 646.5,42.0 647.0,42.0 647.5,42.0 648.1,42.0 648.6,42.0 649.2,42.0 649.7,42.0 650.2,42.1 650.8,42.1 651.3,42.1 651.9,42.1 652.4,42.1 653.0,42.1 653.5,42.1 654.0,42.1 654.6,42.1 655.1,42.1 655.7,42.1 656.2,42.1 656.7,42.1 657.3,42.1 657.8,42.1 658.4,42.1 658.9,42.1 659.4,42.1 660.0,42.1 660.5,42.1 661.1,42.1 661.6,42.1 662.2,42.1 662.7,42.1 663.2,42.1 663.8,42.1 664.3,42.1 664.9,42.1 665.4,42.1 665.9,42.1 666.5,42.1 667.0,42.1 667.6,42.1 668.1,42.1 668.7,42.2 669.2,42.2 669.7,42.2 670.3,42.2 670.8,42.2 671.4,42.2 671.9,42.2" fill="none" stroke="#9f97d1" stroke-width="2.8" stroke-linejoin="round" stroke-opacity="1.0"/>
<polyline clip-path="url(#clipb)" points="401.2,90.5 402.1,93.6 403.0,97.8 403.9,107.0 404.8,104.1 405.7,115.9 406.6,108.8 407.5,112.9 408.3,116.4 409.2,121.3 410.1,130.3 411.0,140.8 411.9,143.9 412.8,139.0 413.7,155.9 414.6,160.7 415.5,168.4 416.4,171.5 417.3,172.5 418.2,170.0 419.1,172.4 420.0,171.7 420.9,170.8 421.7,164.6 422.6,168.7 423.5,156.7 424.4,145.4 425.3,152.4 426.2,143.2 427.1,123.0 428.0,140.1 428.9,140.8 429.8,128.6 430.7,110.6 431.6,106.3 432.5,121.8 433.4,110.6 434.3,111.8 435.1,115.4 436.0,122.3 436.9,106.7 437.8,116.9 438.7,112.4 439.6,114.0 440.5,105.8 441.4,112.5 442.3,128.9 443.2,126.7 444.1,122.3 445.0,138.0 445.9,135.9 446.8,135.1 447.7,148.0 448.5,149.0 449.4,152.4 450.3,142.5 451.2,146.8 452.1,139.3 453.0,143.2 453.9,140.9 454.8,143.5 455.7,138.3 456.6,142.3 457.5,145.5 458.4,131.4 459.3,129.1 460.2,120.9 461.1,133.1 461.9,135.5 462.8,140.3 463.7,144.3 464.6,135.4 465.5,122.3 466.4,129.1 467.3,137.3 468.2,118.4 469.1,123.2 470.0,122.1 470.9,122.2 471.8,120.4 472.7,118.6 473.6,132.1 474.5,125.4 475.3,126.8 476.2,119.4 477.1,131.8 478.0,118.6 478.9,124.5 479.8,121.4 480.7,135.7 481.6,129.3 482.5,133.4 483.4,144.9 484.3,138.9 485.2,140.0 486.1,143.3 487.0,142.7 487.9,146.1 488.7,139.9 489.6,134.9 490.5,141.4 491.4,145.1 492.3,129.9 493.2,136.6 494.1,134.6 495.0,135.8 495.9,136.7 496.8,130.1 497.7,135.7 498.6,133.2 499.5,141.6 500.4,142.6 501.3,133.5 502.1,119.4 503.0,127.7 503.9,118.5 504.8,126.7 505.7,128.0 506.6,134.2 507.5,130.5 508.4,119.6 509.3,123.5 510.2,135.2 511.1,134.5 512.0,124.7 512.9,134.7 513.8,128.2 514.7,138.3 515.5,129.7 516.4,124.1 517.3,128.5 518.2,132.9 519.1,134.3 520.0,136.0 520.9,135.4 521.8,128.1 522.7,128.2 523.6,133.8 524.5,144.1 525.4,139.9 526.3,134.5 527.2,136.2 528.1,143.7 528.9,130.7 529.8,119.4 530.7,141.1 531.6,134.0 532.5,124.5 533.4,135.9 534.3,136.3 535.2,132.3 536.1,129.7 537.0,134.7 537.9,127.9 538.8,143.6 539.7,129.3 540.6,130.0 541.4,133.2 542.3,130.3 543.2,131.5 544.1,124.8 545.0,135.1 545.9,134.3 546.8,142.4 547.7,141.2 548.6,136.4 549.5,143.9 550.4,140.6 551.3,142.9 552.2,137.8 553.1,133.3 554.0,129.5 554.8,146.2 555.7,136.4 556.6,128.6 557.5,124.9 558.4,125.9 559.3,143.1 560.2,138.3 561.1,130.9 562.0,128.4 562.9,132.3 563.8,132.7 564.7,133.4 565.6,139.2 566.5,133.6 567.4,129.7 568.2,135.7 569.1,129.0 570.0,152.0 570.9,137.3 571.8,123.6 572.7,125.6 573.6,121.4 574.5,128.2 575.4,135.1 576.3,128.8 577.2,115.7 578.1,133.5 579.0,128.4 579.9,130.3 580.8,123.4 581.6,121.7 582.5,116.2 583.4,123.3 584.3,108.8 585.2,114.9 586.1,122.9 587.0,127.2 587.9,129.9 588.8,119.2 589.7,107.9 590.6,121.0 591.5,127.2 592.4,122.0 593.3,124.7 594.2,128.0 595.0,133.7 595.9,121.9 596.8,111.7 597.7,113.1 598.6,115.6 599.5,120.9 600.4,119.8 601.3,117.3 602.2,124.0 603.1,123.2 604.0,126.9 604.9,119.2 605.8,130.9 606.7,122.2 607.6,120.4 608.4,120.5 609.3,121.9 610.2,129.4 611.1,130.6 612.0,129.7 612.9,129.8 613.8,134.1 614.7,130.3 615.6,131.3 616.5,132.7 617.4,125.2 618.3,131.0 619.2,124.6 620.1,116.1 621.0,115.0 621.8,124.9 622.7,119.9 623.6,123.1 624.5,110.2 625.4,114.1 626.3,118.5 627.2,127.0 628.1,127.8 629.0,123.1 629.9,126.5 630.8,127.7 631.7,122.8 632.6,135.1 633.5,140.4 634.4,134.6 635.2,134.4 636.1,128.1 637.0,132.2 637.9,129.2 638.8,138.7 639.7,117.9 640.6,123.5 641.5,131.6 642.4,124.2 643.3,117.9 644.2,120.4 645.1,126.2 646.0,122.0 646.9,121.0 647.8,134.4 648.6,136.6 649.5,130.4 650.4,119.5 651.3,116.2 652.2,123.8 653.1,116.0 654.0,119.1 654.9,126.6 655.8,131.5 656.7,130.8 657.6,125.3 658.5,116.7 659.4,120.8 660.3,134.9 661.2,134.4 662.0,121.5 662.9,125.0 663.8,131.8 664.7,121.6 665.6,116.5 666.5,119.5" fill="none" stroke="#eca52c" stroke-width="1.9" stroke-linejoin="round" stroke-opacity="1.0"/>
<polyline clip-path="url(#clipb)" points="401.2,91.2 401.7,92.9 402.3,94.7 402.8,96.6 403.4,98.6 403.9,100.7 404.4,102.9 405.0,105.2 405.5,107.6 406.1,110.0 406.6,112.5 407.2,115.0 407.7,117.8 408.2,120.9 408.8,124.0 409.3,127.3 409.9,130.6 410.4,133.9 410.9,137.1 411.5,140.2 412.0,143.1 412.6,146.1 413.1,149.3 413.7,152.7 414.2,156.1 414.7,159.4 415.3,162.6 415.8,165.4 416.4,167.8 416.9,169.6 417.4,170.8 418.0,171.2 418.5,171.1 419.1,170.6 419.6,169.8 420.1,168.7 420.7,167.4 421.2,165.8 421.8,164.0 422.3,162.0 422.9,159.9 423.4,157.6 423.9,155.2 424.5,152.6 425.0,150.0 425.6,147.3 426.1,144.5 426.6,141.7 427.2,138.9 427.7,136.2 428.3,133.4 428.8,130.7 429.4,128.2 429.9,125.7 430.4,123.3 431.0,121.0 431.5,119.0 432.1,117.1 432.6,115.4 433.1,114.0 433.7,112.8 434.2,111.8 434.8,111.2 435.3,110.9 435.8,110.8 436.4,111.0 436.9,111.4 437.5,112.0 438.0,112.7 438.6,113.6 439.1,114.5 439.6,115.7 440.2,116.9 440.7,118.2 441.3,119.6 441.8,121.1 442.3,122.6 442.9,124.2 443.4,125.8 444.0,127.4 444.5,129.0 445.1,130.6 445.6,132.2 446.1,133.7 446.7,135.2 447.2,136.6 447.8,138.0 448.3,139.3 448.8,140.4 449.4,141.5 449.9,142.4 450.5,143.2 451.0,143.9 451.6,144.3 452.1,144.6 452.6,144.7 453.2,144.7 453.7,144.5 454.3,144.1 454.8,143.7 455.3,143.2 455.9,142.5 456.4,141.8 457.0,141.0 457.5,140.1 458.0,139.1 458.6,138.1 459.1,137.1 459.7,136.0 460.2,134.9 460.8,133.7 461.3,132.6 461.8,131.4 462.4,130.3 462.9,129.1 463.5,128.0 464.0,126.9 464.5,125.9 465.1,124.9 465.6,123.9 466.2,123.1 466.7,122.2 467.3,121.5 467.8,120.9 468.3,120.3 468.9,119.9 469.4,119.6 470.0,119.4 470.5,119.3 471.0,119.3 471.6,119.4 472.1,119.6 472.7,119.8 473.2,120.0 473.7,120.3 474.3,120.6 474.8,121.0 475.4,121.4 475.9,121.8 476.5,122.3 477.0,122.7 477.5,123.2 478.1,123.7 478.6,124.2 479.2,124.7 479.7,125.1 480.2,125.6 480.8,126.1 481.3,126.5 481.9,126.9 482.4,127.3 483.0,127.6 483.5,128.0 484.0,128.2 484.6,128.5 485.1,128.6 485.7,128.8 486.2,128.8 486.7,128.8 487.3,128.8 487.8,128.7 488.4,128.6 488.9,128.5 489.4,128.4 490.0,128.2 490.5,128.1 491.1,127.9 491.6,127.7 492.2,127.4 492.7,127.2 493.2,127.0 493.8,126.7 494.3,126.4 494.9,126.2 495.4,125.9 495.9,125.6 496.5,125.4 497.0,125.1 497.6,124.9 498.1,124.6 498.7,124.4 499.2,124.1 499.7,123.9 500.3,123.7 500.8,123.5 501.4,123.3 501.9,123.2 502.4,123.0 503.0,122.9 503.5,122.8 504.1,122.8 504.6,122.7 505.1,122.7 505.7,122.8 506.2,122.8 506.8,122.9 507.3,123.0 507.9,123.1 508.4,123.2 508.9,123.4 509.5,123.5 510.0,123.7 510.6,123.9 511.1,124.1 511.6,124.3 512.2,124.5 512.7,124.7 513.3,124.9 513.8,125.2 514.4,125.4 514.9,125.6 515.4,125.9 516.0,126.1 516.5,126.3 517.1,126.5 517.6,126.8 518.1,127.0 518.7,127.2 519.2,127.3 519.8,127.5 520.3,127.7 520.8,127.8 521.4,128.0 521.9,128.1 522.5,128.2 523.0,128.2 523.6,128.3 524.1,128.3 524.6,128.3 525.2,128.3 525.7,128.2 526.3,128.2 526.8,128.1 527.3,128.0 527.9,127.8 528.4,127.7 529.0,127.5 529.5,127.4 530.1,127.2 530.6,127.0 531.1,126.8 531.7,126.6 532.2,126.4 532.8,126.3 533.3,126.1 533.8,125.9 534.4,125.7 534.9,125.5 535.5,125.4 536.0,125.2 536.5,125.1 537.1,124.9 537.6,124.8 538.2,124.7 538.7,124.7 539.3,124.6 539.8,124.6 540.3,124.6 540.9,124.6 541.4,124.6 542.0,124.7 542.5,124.7 543.0,124.7 543.6,124.8 544.1,124.9 544.7,124.9 545.2,125.0 545.8,125.1 546.3,125.2 546.8,125.3 547.4,125.3 547.9,125.4 548.5,125.5 549.0,125.6 549.5,125.7 550.1,125.8 550.6,125.9 551.2,126.0 551.7,126.1 552.3,126.2 552.8,126.3 553.3,126.3 553.9,126.4 554.4,126.5 555.0,126.5 555.5,126.6 556.0,126.6 556.6,126.7 557.1,126.7 557.7,126.7 558.2,126.7 558.7,126.7 559.3,126.7 559.8,126.7 560.4,126.7 560.9,126.7 561.5,126.7 562.0,126.7 562.5,126.7 563.1,126.7 563.6,126.7 564.2,126.7 564.7,126.7 565.2,126.7 565.8,126.7 566.3,126.7 566.9,126.7 567.4,126.7 568.0,126.7 568.5,126.7 569.0,126.7 569.6,126.7 570.1,126.7 570.7,126.7 571.2,126.7 571.7,126.7 572.3,126.7 572.8,126.7 573.4,126.7 573.9,126.7 574.4,126.7 575.0,126.7 575.5,126.7 576.1,126.7 576.6,126.7 577.2,126.7 577.7,126.7 578.2,126.7 578.8,126.7 579.3,126.7 579.9,126.7 580.4,126.7 580.9,126.7 581.5,126.7 582.0,126.7 582.6,126.7 583.1,126.7 583.7,126.7 584.2,126.7 584.7,126.7 585.3,126.7 585.8,126.7 586.4,126.7 586.9,126.7 587.4,126.7 588.0,126.7 588.5,126.7 589.1,126.7 589.6,126.7 590.1,126.7 590.7,126.7 591.2,126.7 591.8,126.7 592.3,126.7 592.9,126.7 593.4,126.7 593.9,126.7 594.5,126.7 595.0,126.7 595.6,126.7 596.1,126.7 596.6,126.7 597.2,126.7 597.7,126.7 598.3,126.7 598.8,126.7 599.4,126.7 599.9,126.7 600.4,126.7 601.0,126.7 601.5,126.7 602.1,126.7 602.6,126.7 603.1,126.7 603.7,126.7 604.2,126.7 604.8,126.7 605.3,126.7 605.8,126.7 606.4,126.7 606.9,126.7 607.5,126.7 608.0,126.7 608.6,126.7 609.1,126.7 609.6,126.7 610.2,126.7 610.7,126.7 611.3,126.7 611.8,126.7 612.3,126.7 612.9,126.7 613.4,126.6 614.0,126.6 614.5,126.6 615.1,126.6 615.6,126.6 616.1,126.6 616.7,126.6 617.2,126.6 617.8,126.6 618.3,126.6 618.8,126.6 619.4,126.6 619.9,126.6 620.5,126.6 621.0,126.6 621.5,126.6 622.1,126.6 622.6,126.6 623.2,126.6 623.7,126.6 624.3,126.6 624.8,126.6 625.3,126.6 625.9,126.6 626.4,126.6 627.0,126.6 627.5,126.6 628.0,126.6 628.6,126.6 629.1,126.6 629.7,126.6 630.2,126.6 630.8,126.6 631.3,126.6 631.8,126.6 632.4,126.6 632.9,126.6 633.5,126.6 634.0,126.6 634.5,126.5 635.1,126.5 635.6,126.5 636.2,126.5 636.7,126.5 637.3,126.5 637.8,126.5 638.3,126.5 638.9,126.5 639.4,126.5 640.0,126.5 640.5,126.5 641.0,126.5 641.6,126.5 642.1,126.5 642.7,126.5 643.2,126.5 643.7,126.5 644.3,126.5 644.8,126.5 645.4,126.5 645.9,126.5 646.5,126.5 647.0,126.5 647.5,126.5 648.1,126.4 648.6,126.4 649.2,126.4 649.7,126.4 650.2,126.4 650.8,126.4 651.3,126.4 651.9,126.4 652.4,126.4 653.0,126.4 653.5,126.4 654.0,126.4 654.6,126.4 655.1,126.4 655.7,126.4 656.2,126.4 656.7,126.4 657.3,126.4 657.8,126.4 658.4,126.3 658.9,126.3 659.4,126.3 660.0,126.3 660.5,126.3 661.1,126.3 661.6,126.3 662.2,126.3 662.7,126.3 663.2,126.3 663.8,126.3 664.3,126.3 664.9,126.3 665.4,126.3 665.9,126.3 666.5,126.3 667.0,126.2 667.6,126.2 668.1,126.2 668.7,126.2 669.2,126.2 669.7,126.2 670.3,126.2 670.8,126.2 671.4,126.2 671.9,126.2" fill="none" stroke="#eca52c" stroke-width="2.8" stroke-linejoin="round" stroke-opacity="1.0"/>
<polyline clip-path="url(#clipc)" points="51.3,344.1 52.2,352.2 53.1,355.7 53.9,362.2 54.8,362.6 55.7,357.7 56.6,373.0 57.5,366.8 58.4,356.5 59.2,370.8 60.1,360.6 61.0,376.1 61.9,394.1 62.8,381.2 63.6,372.6 64.5,381.8 65.4,379.5 66.3,385.0 67.2,379.5 68.0,394.6 68.9,388.1 69.8,383.1 70.7,374.8 71.6,371.2 72.5,364.4 73.3,373.4 74.2,374.7 75.1,371.2 76.0,362.5 76.9,368.2 77.7,372.0 78.6,368.3 79.5,367.1 80.4,355.7 81.3,346.2 82.2,352.4 83.0,348.1 83.9,349.6 84.8,362.8 85.7,367.9 86.6,375.5 87.4,352.1 88.3,354.3 89.2,356.6 90.1,353.4 91.0,370.2 91.8,374.8 92.7,372.3 93.6,355.4 94.5,366.6 95.4,376.8 96.3,370.1 97.1,364.7 98.0,363.1 98.9,368.5 99.8,369.0 100.7,373.9 101.5,359.7 102.4,359.5 103.3,377.9 104.2,361.2 105.1,368.2 105.9,362.3 106.8,351.0 107.7,351.5 108.6,347.6 109.5,341.2 110.4,339.0 111.2,357.5 112.1,358.2 113.0,347.7 113.9,361.7 114.8,359.5 115.6,345.0 116.5,340.9 117.4,344.5 118.3,342.1 119.2,339.9 120.1,344.5 120.9,357.7 121.8,345.2 122.7,345.9 123.6,347.7 124.5,347.9 125.3,354.8 126.2,356.7 127.1,360.0 128.0,357.2 128.9,354.8 129.7,362.5 130.6,363.0 131.5,361.9 132.4,360.1 133.3,349.4 134.2,345.9 135.0,350.5 135.9,342.8 136.8,349.5 137.7,354.8 138.6,356.3 139.4,353.8 140.3,348.1 141.2,345.1 142.1,347.1 143.0,351.4 143.9,359.2 144.7,354.8 145.6,355.3 146.5,354.8 147.4,357.5 148.3,343.2 149.1,355.9 150.0,356.8 150.9,361.2 151.8,365.2 152.7,360.1 153.5,346.9 154.4,369.1 155.3,340.1 156.2,332.0 157.1,347.8 158.0,348.6 158.8,349.2 159.7,351.2 160.6,356.1 161.5,367.4 162.4,352.0 163.2,355.3 164.1,344.5 165.0,355.5 165.9,351.7 166.8,362.5 167.6,368.1 168.5,367.7 169.4,363.6 170.3,367.3 171.2,366.7 172.1,360.8 172.9,358.4 173.8,353.1 174.7,352.1 175.6,345.5 176.5,347.6 177.3,349.6 178.2,362.8 179.1,362.0 180.0,368.1 180.9,337.0 181.8,341.7 182.6,350.1 183.5,354.7 184.4,356.9 185.3,359.8 186.2,363.1 187.0,356.2 187.9,360.8 188.8,358.1 189.7,349.6 190.6,358.4 191.4,346.7 192.3,356.2 193.2,345.8 194.1,343.5 195.0,349.1 195.9,356.2 196.7,364.6 197.6,360.1 198.5,357.5 199.4,343.1 200.3,348.2 201.1,347.8 202.0,347.7 202.9,362.2 203.8,351.9 204.7,353.9 205.6,356.3 206.4,353.4 207.3,351.6 208.2,354.9 209.1,360.3 210.0,353.5 210.8,345.9 211.7,341.3 212.6,351.5 213.5,340.9 214.4,355.4 215.2,359.1 216.1,343.6 217.0,343.0 217.9,350.1 218.8,354.2 219.7,345.6 220.5,361.6 221.4,352.2 222.3,354.9 223.2,348.6 224.1,349.9 224.9,351.9 225.8,355.7 226.7,342.8 227.6,358.6 228.5,352.9 229.3,345.7 230.2,354.9 231.1,351.6 232.0,352.5 232.9,350.1 233.8,360.3 234.6,355.6 235.5,349.6 236.4,363.2 237.3,346.8 238.2,348.8 239.0,352.0 239.9,348.4 240.8,336.3 241.7,347.5 242.6,355.6 243.5,357.0 244.3,352.7 245.2,352.5 246.1,347.4 247.0,343.3 247.9,336.3 248.7,337.7 249.6,358.7 250.5,346.5 251.4,357.3 252.3,352.6 253.1,350.6 254.0,346.0 254.9,351.0 255.8,349.8 256.7,354.0 257.6,349.6 258.4,358.1 259.3,364.0 260.2,352.5 261.1,349.3 262.0,354.7 262.8,361.1 263.7,365.1 264.6,359.1 265.5,353.2 266.4,342.5 267.3,338.4 268.1,341.0 269.0,345.7 269.9,347.9 270.8,339.2 271.7,336.8 272.5,333.9 273.4,346.0 274.3,361.6 275.2,354.3 276.1,353.9 276.9,356.2 277.8,341.6 278.7,344.7 279.6,347.7 280.5,354.0 281.4,357.5 282.2,342.3 283.1,348.6 284.0,342.4 284.9,346.2 285.8,332.2 286.6,327.6 287.5,335.5 288.4,335.3 289.3,337.9 290.2,336.3 291.0,340.7 291.9,337.7 292.8,351.3 293.7,347.5 294.6,356.0 295.5,361.9 296.3,358.7 297.2,346.9 298.1,344.1 299.0,350.0 299.9,342.8 300.7,345.2 301.6,347.3 302.5,347.1 303.4,342.5 304.3,347.3 305.2,343.1 306.0,350.6 306.9,353.7 307.8,346.8 308.7,341.7 309.6,335.7 310.4,341.0 311.3,351.9 312.2,343.7 313.1,352.4 314.0,350.9 314.8,352.5 315.7,359.8 316.6,352.0 317.5,355.6 318.4,360.0" fill="none" stroke="#55b557" stroke-width="1.35" stroke-linejoin="round" stroke-opacity="1.0"/>
<polyline clip-path="url(#clipc)" points="51.3,342.7 52.2,342.5 53.1,342.4 53.9,340.9 54.8,335.1 55.7,332.4 56.6,328.2 57.5,326.2 58.4,321.3 59.2,323.9 60.1,314.5 61.0,313.9 61.9,316.7 62.8,311.8 63.6,310.9 64.5,315.4 65.4,308.1 66.3,310.1 67.2,308.4 68.0,308.8 68.9,308.1 69.8,306.8 70.7,307.3 71.6,312.5 72.5,310.6 73.3,315.1 74.2,317.0 75.1,316.9 76.0,316.2 76.9,319.3 77.7,325.2 78.6,328.1 79.5,330.9 80.4,330.8 81.3,331.1 82.2,335.5 83.0,335.5 83.9,337.9 84.8,335.9 85.7,345.6 86.6,346.1 87.4,340.8 88.3,338.2 89.2,340.1 90.1,337.0 91.0,340.0 91.8,338.9 92.7,336.2 93.6,330.7 94.5,329.6 95.4,331.8 96.3,328.0 97.1,328.8 98.0,325.8 98.9,327.6 99.8,323.9 100.7,325.0 101.5,322.7 102.4,324.1 103.3,324.6 104.2,322.4 105.1,324.1 105.9,323.7 106.8,325.6 107.7,323.8 108.6,328.4 109.5,325.3 110.4,324.9 111.2,330.1 112.1,325.9 113.0,326.2 113.9,331.2 114.8,336.7 115.6,338.2 116.5,335.1 117.4,330.5 118.3,333.9 119.2,333.5 120.1,336.1 120.9,337.2 121.8,334.0 122.7,337.4 123.6,334.6 124.5,332.2 125.3,332.9 126.2,331.0 127.1,332.9 128.0,329.6 128.9,329.5 129.7,334.2 130.6,332.1 131.5,330.7 132.4,326.7 133.3,327.3 134.2,327.0 135.0,327.2 135.9,325.9 136.8,325.2 137.7,329.2 138.6,332.1 139.4,326.6 140.3,329.2 141.2,328.9 142.1,329.9 143.0,332.8 143.9,334.3 144.7,328.4 145.6,328.5 146.5,329.4 147.4,331.6 148.3,331.9 149.1,334.0 150.0,333.0 150.9,334.4 151.8,334.9 152.7,333.0 153.5,329.1 154.4,338.2 155.3,331.6 156.2,331.2 157.1,335.9 158.0,331.6 158.8,331.9 159.7,333.0 160.6,332.8 161.5,334.8 162.4,326.4 163.2,324.5 164.1,326.1 165.0,330.7 165.9,329.0 166.8,328.6 167.6,331.6 168.5,330.1 169.4,328.0 170.3,330.6 171.2,334.1 172.1,333.0 172.9,329.2 173.8,330.9 174.7,331.0 175.6,326.9 176.5,330.4 177.3,332.7 178.2,331.2 179.1,325.6 180.0,334.3 180.9,327.0 181.8,328.0 182.6,332.3 183.5,332.8 184.4,328.3 185.3,331.4 186.2,333.4 187.0,327.3 187.9,331.5 188.8,331.0 189.7,331.7 190.6,332.6 191.4,331.4 192.3,332.6 193.2,330.3 194.1,328.8 195.0,328.6 195.9,328.3 196.7,327.4 197.6,329.3 198.5,332.7 199.4,328.6 200.3,335.4 201.1,332.9 202.0,330.3 202.9,335.4 203.8,327.2 204.7,333.7 205.6,334.9 206.4,333.0 207.3,333.0 208.2,331.1 209.1,331.4 210.0,328.3 210.8,331.4 211.7,330.6 212.6,333.6 213.5,329.7 214.4,333.0 215.2,336.0 216.1,327.6 217.0,333.7 217.9,333.8 218.8,333.3 219.7,329.3 220.5,334.9 221.4,332.0 222.3,329.5 223.2,326.1 224.1,331.7 224.9,330.8 225.8,333.2 226.7,325.8 227.6,331.3 228.5,331.1 229.3,330.6 230.2,333.3 231.1,331.0 232.0,334.2 232.9,327.1 233.8,331.4 234.6,331.4 235.5,327.9 236.4,334.1 237.3,327.3 238.2,327.0 239.0,333.0 239.9,329.2 240.8,331.2 241.7,328.7 242.6,330.8 243.5,333.3 244.3,329.3 245.2,331.5 246.1,330.5 247.0,328.4 247.9,327.8 248.7,329.3 249.6,334.6 250.5,329.1 251.4,331.7 252.3,328.2 253.1,331.4 254.0,327.2 254.9,329.6 255.8,330.9 256.7,330.2 257.6,335.5 258.4,329.4 259.3,330.6 260.2,333.8 261.1,329.9 262.0,330.1 262.8,330.0 263.7,331.2 264.6,328.9 265.5,328.9 266.4,330.7 267.3,331.1 268.1,332.1 269.0,332.5 269.9,329.3 270.8,332.3 271.7,334.6 272.5,330.3 273.4,328.1 274.3,331.6 275.2,328.7 276.1,329.7 276.9,333.5 277.8,330.1 278.7,331.2 279.6,329.2 280.5,337.1 281.4,328.8 282.2,329.0 283.1,333.3 284.0,328.2 284.9,331.3 285.8,330.5 286.6,328.7 287.5,327.5 288.4,330.5 289.3,329.2 290.2,329.8 291.0,332.8 291.9,326.7 292.8,328.9 293.7,330.5 294.6,328.1 295.5,329.5 296.3,332.4 297.2,328.3 298.1,330.8 299.0,329.3 299.9,328.4 300.7,328.5 301.6,326.0 302.5,330.4 303.4,331.3 304.3,332.8 305.2,332.5 306.0,329.2 306.9,329.8 307.8,333.1 308.7,332.5 309.6,332.0 310.4,326.9 311.3,333.3 312.2,330.0 313.1,335.1 314.0,331.5 314.8,327.3 315.7,334.1 316.6,327.9 317.5,335.8 318.4,330.8" fill="none" stroke="#f3b5b7" stroke-width="1.1" stroke-linejoin="round" stroke-opacity="1.0"/>
<polyline clip-path="url(#clipc)" points="51.3,341.1 52.2,332.8 53.1,329.2 53.9,321.2 54.8,315.0 55.7,317.2 56.6,297.7 57.5,301.8 58.4,307.3 59.2,295.6 60.1,296.4 61.0,280.3 61.9,265.1 62.8,273.1 63.6,280.8 64.5,276.1 65.4,271.1 66.3,267.6 67.2,271.4 68.0,256.7 68.9,262.5 69.8,266.2 70.7,275.0 71.6,283.8 72.5,288.7 73.3,284.2 74.2,284.8 75.1,288.1 76.0,296.2 76.9,293.6 77.7,295.7 78.6,302.3 79.5,306.3 80.4,317.6 81.3,327.3 82.2,325.5 83.0,329.9 83.9,330.9 84.8,315.6 85.7,320.3 86.6,313.0 87.4,331.2 88.3,326.3 89.2,326.0 90.1,326.1 91.0,312.2 91.8,306.7 92.7,306.3 93.6,317.8 94.5,305.4 95.4,297.5 96.3,300.4 97.1,306.6 98.0,305.3 98.9,301.7 99.8,297.5 100.7,293.6 101.5,305.5 102.4,307.1 103.3,289.1 104.2,303.8 105.1,298.3 105.9,304.0 106.8,317.1 107.7,314.7 108.6,323.3 109.5,326.6 110.4,328.4 111.2,315.1 112.1,310.2 113.0,321.0 113.9,312.0 114.8,319.8 115.6,335.6 116.5,336.7 117.4,328.5 118.3,334.3 119.2,336.1 120.1,334.0 120.9,322.0 121.8,331.3 122.7,334.0 123.6,329.4 124.5,326.8 125.3,320.6 126.2,316.8 127.1,315.4 128.0,314.8 128.9,317.2 129.7,314.2 130.6,311.5 131.5,311.4 132.4,309.1 133.3,320.3 134.2,323.6 135.0,319.2 135.9,325.6 136.8,318.2 137.7,316.9 138.6,318.3 139.4,315.3 140.3,323.7 141.2,326.3 142.1,325.3 143.0,323.9 143.9,317.6 144.7,316.1 145.6,315.7 146.5,317.1 147.4,316.7 148.3,331.2 149.1,320.6 150.0,318.6 150.9,315.7 151.8,312.2 152.7,315.3 153.5,324.7 154.4,311.6 155.3,334.0 156.2,341.8 157.1,330.6 158.0,325.6 158.8,325.2 159.7,324.4 160.6,319.2 161.5,309.9 162.4,316.9 163.2,311.7 164.1,324.2 165.0,317.7 165.9,319.8 166.8,308.7 167.6,306.0 168.5,304.9 169.4,306.9 170.3,305.8 171.2,309.9 172.1,314.6 172.9,313.3 173.8,320.2 174.7,321.4 175.6,323.9 176.5,325.3 177.3,325.5 178.2,310.9 179.1,306.2 180.0,308.7 180.9,332.5 181.8,328.8 182.6,324.7 183.5,320.6 184.4,314.0 185.3,314.1 186.2,312.8 187.0,313.6 187.9,313.2 188.8,315.5 189.7,324.6 190.6,316.6 191.4,327.2 192.3,319.0 193.2,326.9 194.1,327.8 195.0,322.0 195.9,314.5 196.7,305.3 197.6,311.7 198.5,317.8 199.4,328.0 200.3,329.7 201.1,327.6 202.0,325.1 202.9,315.7 203.8,317.8 204.7,322.3 205.6,321.1 206.4,322.1 207.3,323.9 208.2,318.7 209.1,313.6 210.0,317.3 210.8,328.0 211.7,331.8 212.6,324.5 213.5,331.3 214.4,320.1 215.2,319.5 216.1,326.5 217.0,333.2 217.9,326.3 218.8,321.5 219.7,326.2 220.5,315.8 221.4,322.3 222.3,317.1 223.2,320.0 224.1,324.3 224.9,321.4 225.8,320.0 226.7,325.5 227.6,315.2 228.5,320.7 229.3,327.4 230.2,321.0 231.1,321.9 232.0,324.2 232.9,319.5 233.8,313.5 234.6,318.3 235.5,320.8 236.4,313.4 237.3,323.0 238.2,320.7 239.0,323.5 239.9,323.3 240.8,337.4 241.7,323.7 242.6,317.7 243.5,318.7 244.3,319.2 245.2,321.5 246.1,325.6 247.0,327.6 247.9,334.0 248.7,334.1 249.6,318.4 250.5,325.1 251.4,316.9 252.3,318.1 253.1,323.4 254.0,323.8 254.9,321.1 255.8,323.7 256.7,318.7 257.6,328.4 258.4,313.9 259.3,309.2 260.2,323.7 261.1,323.1 262.0,317.9 262.8,311.5 263.7,308.7 264.6,312.3 265.5,318.2 266.4,330.7 267.3,335.2 268.1,333.6 269.0,329.2 269.9,324.0 270.8,335.7 271.7,340.3 272.5,338.9 273.4,324.6 274.3,312.6 275.2,316.9 276.1,318.3 276.9,319.9 277.8,331.0 278.7,329.0 279.6,324.0 280.5,325.6 281.4,313.8 282.2,329.2 283.1,327.3 284.0,328.3 284.9,327.7 285.8,340.8 286.6,343.6 287.5,334.5 288.4,337.6 289.3,333.8 290.2,336.0 291.0,334.6 291.9,331.5 292.8,320.1 293.7,325.5 294.6,314.7 295.5,310.1 296.3,316.1 297.2,324.0 298.1,329.2 299.0,321.8 299.9,328.1 300.7,325.7 301.6,321.3 302.5,325.8 303.4,331.4 304.3,328.0 305.2,331.9 306.0,321.1 306.9,318.6 307.8,328.8 308.7,333.3 309.6,338.8 310.4,328.4 311.3,323.9 312.2,328.7 313.1,325.3 314.0,323.1 314.8,317.3 315.7,316.8 316.6,318.4 317.5,322.7 318.4,313.3" fill="none" stroke="#5f8ff2" stroke-width="1.35" stroke-linejoin="round" stroke-opacity="1.0"/>
<polyline clip-path="url(#clipc)" points="51.3,342.5 51.8,340.1 52.4,337.7 52.9,335.5 53.4,333.3 54.0,331.1 54.5,329.1 55.0,327.1 55.6,325.2 56.1,323.3 56.6,321.6 57.2,319.9 57.7,318.3 58.2,316.8 58.8,315.3 59.3,314.0 59.8,312.7 60.4,311.5 60.9,310.4 61.4,309.3 62.0,308.4 62.5,307.5 63.1,306.7 63.6,306.1 64.1,305.5 64.7,305.0 65.2,304.5 65.7,304.2 66.3,304.0 66.8,303.8 67.3,303.8 67.9,303.9 68.4,304.2 68.9,304.7 69.5,305.3 70.0,306.1 70.5,307.0 71.1,308.1 71.6,309.3 72.1,310.6 72.7,311.9 73.2,313.4 73.7,314.9 74.3,316.5 74.8,318.1 75.3,319.7 75.9,321.3 76.4,323.0 76.9,324.6 77.5,326.2 78.0,327.8 78.5,329.3 79.1,330.8 79.6,332.1 80.1,333.4 80.7,334.6 81.2,335.7 81.7,336.6 82.3,337.4 82.8,338.0 83.4,338.5 83.9,338.8 84.4,338.9 85.0,338.9 85.5,338.7 86.0,338.4 86.6,338.1 87.1,337.6 87.6,337.1 88.2,336.5 88.7,335.8 89.2,335.1 89.8,334.3 90.3,333.5 90.8,332.7 91.4,331.8 91.9,330.9 92.4,330.1 93.0,329.2 93.5,328.3 94.0,327.4 94.6,326.6 95.1,325.7 95.6,324.9 96.2,324.2 96.7,323.5 97.2,322.9 97.8,322.3 98.3,321.8 98.8,321.4 99.4,321.1 99.9,320.9 100.4,320.8 101.0,320.8 101.5,320.8 102.0,321.0 102.6,321.2 103.1,321.5 103.7,321.8 104.2,322.2 104.7,322.7 105.3,323.2 105.8,323.7 106.3,324.3 106.9,324.8 107.4,325.4 107.9,326.1 108.5,326.7 109.0,327.3 109.5,328.0 110.1,328.6 110.6,329.2 111.1,329.8 111.7,330.4 112.2,330.9 112.7,331.5 113.3,332.0 113.8,332.4 114.3,332.8 114.9,333.1 115.4,333.4 115.9,333.7 116.5,333.8 117.0,333.9 117.5,333.9 118.1,333.8 118.6,333.8 119.1,333.6 119.7,333.4 120.2,333.2 120.7,333.0 121.3,332.7 121.8,332.4 122.3,332.1 122.9,331.8 123.4,331.4 124.0,331.1 124.5,330.7 125.0,330.3 125.6,330.0 126.1,329.6 126.6,329.2 127.2,328.8 127.7,328.5 128.2,328.1 128.8,327.8 129.3,327.5 129.8,327.2 130.4,326.9 130.9,326.7 131.4,326.5 132.0,326.3 132.5,326.2 133.0,326.1 133.6,326.0 134.1,326.0 134.6,326.0 135.2,326.1 135.7,326.2 136.2,326.3 136.8,326.5 137.3,326.7 137.8,326.9 138.4,327.1 138.9,327.3 139.4,327.6 140.0,327.8 140.5,328.1 141.0,328.4 141.6,328.6 142.1,328.9 142.6,329.2 143.2,329.5 143.7,329.8 144.3,330.0 144.8,330.3 145.3,330.6 145.9,330.8 146.4,331.0 146.9,331.2 147.5,331.4 148.0,331.6 148.5,331.7 149.1,331.8 149.6,331.9 150.1,332.0 150.7,332.0 151.2,332.0 151.7,331.9 152.3,331.9 152.8,331.8 153.3,331.7 153.9,331.6 154.4,331.4 154.9,331.3 155.5,331.1 156.0,331.0 156.5,330.8 157.1,330.6 157.6,330.4 158.1,330.2 158.7,330.0 159.2,329.8 159.7,329.6 160.3,329.4 160.8,329.2 161.3,329.0 161.9,328.9 162.4,328.7 162.9,328.5 163.5,328.4 164.0,328.3 164.6,328.2 165.1,328.1 165.6,328.0 166.2,327.9 166.7,327.9 167.2,327.9 167.8,327.9 168.3,328.0 168.8,328.0 169.4,328.1 169.9,328.1 170.4,328.2 171.0,328.3 171.5,328.4 172.0,328.5 172.6,328.6 173.1,328.8 173.6,328.9 174.2,329.0 174.7,329.1 175.2,329.3 175.8,329.4 176.3,329.5 176.8,329.6 177.4,329.8 177.9,329.9 178.4,330.0 179.0,330.1 179.5,330.2 180.0,330.3 180.6,330.4 181.1,330.4 181.6,330.5 182.2,330.5 182.7,330.5 183.2,330.6 183.8,330.5 184.3,330.5 184.8,330.5 185.4,330.5 185.9,330.5 186.5,330.5 187.0,330.4 187.5,330.4 188.1,330.4 188.6,330.3 189.1,330.3 189.7,330.3 190.2,330.2 190.7,330.2 191.3,330.1 191.8,330.1 192.3,330.1 192.9,330.0 193.4,330.0 193.9,329.9 194.5,329.9 195.0,329.8 195.5,329.8 196.1,329.8 196.6,329.7 197.1,329.7 197.7,329.7 198.2,329.7 198.7,329.6 199.3,329.6 199.8,329.6 200.3,329.6 200.9,329.6 201.4,329.6 201.9,329.6 202.5,329.6 203.0,329.6 203.5,329.6 204.1,329.6 204.6,329.6 205.1,329.6 205.7,329.6 206.2,329.6 206.8,329.6 207.3,329.6 207.8,329.6 208.4,329.6 208.9,329.6 209.4,329.6 210.0,329.6 210.5,329.6 211.0,329.6 211.6,329.6 212.1,329.6 212.6,329.6 213.2,329.6 213.7,329.6 214.2,329.6 214.8,329.6 215.3,329.6 215.8,329.6 216.4,329.6 216.9,329.6 217.4,329.6 218.0,329.6 218.5,329.6 219.0,329.6 219.6,329.6 220.1,329.6 220.6,329.6 221.2,329.6 221.7,329.6 222.2,329.6 222.8,329.6 223.3,329.6 223.8,329.6 224.4,329.6 224.9,329.6 225.4,329.6 226.0,329.6 226.5,329.6 227.1,329.6 227.6,329.6 228.1,329.6 228.7,329.6 229.2,329.6 229.7,329.6 230.3,329.6 230.8,329.6 231.3,329.6 231.9,329.6 232.4,329.6 232.9,329.6 233.5,329.6 234.0,329.6 234.5,329.6 235.1,329.6 235.6,329.6 236.1,329.6 236.7,329.6 237.2,329.6 237.7,329.6 238.3,329.6 238.8,329.6 239.3,329.6 239.9,329.6 240.4,329.6 240.9,329.6 241.5,329.6 242.0,329.6 242.5,329.6 243.1,329.6 243.6,329.6 244.1,329.6 244.7,329.6 245.2,329.6 245.7,329.6 246.3,329.6 246.8,329.6 247.4,329.6 247.9,329.6 248.4,329.6 249.0,329.6 249.5,329.6 250.0,329.6 250.6,329.6 251.1,329.6 251.6,329.6 252.2,329.6 252.7,329.6 253.2,329.6 253.8,329.6 254.3,329.6 254.8,329.6 255.4,329.6 255.9,329.6 256.4,329.6 257.0,329.6 257.5,329.6 258.0,329.6 258.6,329.6 259.1,329.6 259.6,329.6 260.2,329.6 260.7,329.6 261.2,329.6 261.8,329.6 262.3,329.6 262.8,329.6 263.4,329.6 263.9,329.6 264.4,329.6 265.0,329.6 265.5,329.6 266.0,329.6 266.6,329.6 267.1,329.6 267.7,329.6 268.2,329.6 268.7,329.6 269.3,329.6 269.8,329.6 270.3,329.6 270.9,329.6 271.4,329.6 271.9,329.6 272.5,329.6 273.0,329.6 273.5,329.7 274.1,329.7 274.6,329.7 275.1,329.7 275.7,329.7 276.2,329.7 276.7,329.7 277.3,329.7 277.8,329.7 278.3,329.7 278.9,329.7 279.4,329.7 279.9,329.7 280.5,329.7 281.0,329.7 281.5,329.7 282.1,329.7 282.6,329.7 283.1,329.7 283.7,329.7 284.2,329.7 284.7,329.7 285.3,329.7 285.8,329.7 286.3,329.7 286.9,329.7 287.4,329.7 288.0,329.7 288.5,329.7 289.0,329.7 289.6,329.7 290.1,329.7 290.6,329.7 291.2,329.7 291.7,329.7 292.2,329.7 292.8,329.7 293.3,329.7 293.8,329.7 294.4,329.7 294.9,329.7 295.4,329.7 296.0,329.7 296.5,329.7 297.0,329.7 297.6,329.7 298.1,329.7 298.6,329.7 299.2,329.7 299.7,329.7 300.2,329.7 300.8,329.7 301.3,329.7 301.8,329.7 302.4,329.7 302.9,329.8 303.4,329.8 304.0,329.8 304.5,329.8 305.0,329.8 305.6,329.8 306.1,329.8 306.6,329.8 307.2,329.8 307.7,329.8 308.3,329.8 308.8,329.8 309.3,329.8 309.9,329.8 310.4,329.8 310.9,329.8 311.5,329.8 312.0,329.8 312.5,329.8 313.1,329.8 313.6,329.8 314.1,329.8 314.7,329.8 315.2,329.8 315.7,329.8 316.3,329.8 316.8,329.8 317.3,329.8 317.9,329.8 318.4,329.8" fill="none" stroke="#b01a1a" stroke-width="2.5" stroke-linejoin="round" stroke-opacity="1.0"/>
<polyline clip-path="url(#clipc)" points="51.3,342.5 51.8,338.7 52.4,335.0 52.9,331.4 53.4,327.9 54.0,324.5 54.5,321.2 55.0,318.1 55.6,315.1 56.1,312.2 56.6,309.4 57.2,306.7 57.7,304.2 58.2,301.8 58.8,299.5 59.3,297.4 59.8,295.3 60.4,293.4 60.9,291.7 61.4,290.1 62.0,288.6 62.5,287.2 63.1,286.0 63.6,284.9 64.1,284.0 64.7,283.2 65.2,282.5 65.7,282.0 66.3,281.6 66.8,281.4 67.3,281.3 67.9,281.5 68.4,281.9 68.9,282.7 69.5,283.7 70.0,285.0 70.5,286.5 71.1,288.2 71.6,290.1 72.1,292.1 72.7,294.3 73.2,296.6 73.7,299.0 74.3,301.5 74.8,304.0 75.3,306.6 75.9,309.2 76.4,311.8 76.9,314.4 77.5,316.9 78.0,319.3 78.5,321.7 79.1,323.9 79.6,326.0 80.1,328.0 80.7,329.8 81.2,331.4 81.7,332.8 82.3,333.9 82.8,334.8 83.4,335.4 83.9,335.8 84.4,335.8 85.0,335.6 85.5,335.3 86.0,334.9 86.6,334.3 87.1,333.6 87.6,332.8 88.2,331.9 88.7,330.9 89.2,329.8 89.8,328.7 90.3,327.5 90.8,326.3 91.4,325.0 91.9,323.7 92.4,322.4 93.0,321.1 93.5,319.8 94.0,318.6 94.6,317.4 95.1,316.2 95.6,315.0 96.2,314.0 96.7,313.0 97.2,312.1 97.8,311.3 98.3,310.6 98.8,310.0 99.4,309.5 99.9,309.2 100.4,309.1 101.0,309.1 101.5,309.2 102.0,309.4 102.6,309.8 103.1,310.3 103.7,310.8 104.2,311.5 104.7,312.2 105.3,313.0 105.8,313.9 106.3,314.8 106.9,315.8 107.4,316.8 107.9,317.8 108.5,318.9 109.0,319.9 109.5,321.0 110.1,322.1 110.6,323.2 111.1,324.2 111.7,325.2 112.2,326.2 112.7,327.2 113.3,328.1 113.8,328.9 114.3,329.7 114.9,330.4 115.4,331.0 115.9,331.5 116.5,331.9 117.0,332.2 117.5,332.4 118.1,332.5 118.6,332.4 119.1,332.3 119.7,332.1 120.2,331.9 120.7,331.6 121.3,331.2 121.8,330.8 122.3,330.4 122.9,329.9 123.4,329.4 124.0,328.9 124.5,328.3 125.0,327.7 125.6,327.2 126.1,326.6 126.6,326.0 127.2,325.4 127.7,324.9 128.2,324.3 128.8,323.8 129.3,323.3 129.8,322.8 130.4,322.4 130.9,322.0 131.4,321.7 132.0,321.4 132.5,321.2 133.0,321.1 133.6,321.0 134.1,321.0 134.6,321.1 135.2,321.2 135.7,321.3 136.2,321.6 136.8,321.8 137.3,322.1 137.8,322.5 138.4,322.8 138.9,323.2 139.4,323.7 140.0,324.1 140.5,324.6 141.0,325.0 141.6,325.5 142.1,326.0 142.6,326.5 143.2,327.0 143.7,327.5 144.3,327.9 144.8,328.4 145.3,328.8 145.9,329.2 146.4,329.6 146.9,330.0 147.5,330.3 148.0,330.6 148.5,330.8 149.1,331.0 149.6,331.1 150.1,331.2 150.7,331.3 151.2,331.3 151.7,331.2 152.3,331.1 152.8,331.0 153.3,330.9 153.9,330.8 154.4,330.6 154.9,330.4 155.5,330.2 156.0,330.0 156.5,329.8 157.1,329.5 157.6,329.3 158.1,329.1 158.7,328.8 159.2,328.6 159.7,328.3 160.3,328.1 160.8,327.9 161.3,327.6 161.9,327.4 162.4,327.2 162.9,327.0 163.5,326.8 164.0,326.7 164.6,326.5 165.1,326.4 165.6,326.3 166.2,326.3 166.7,326.3 167.2,326.3 167.8,326.3 168.3,326.3 168.8,326.4 169.4,326.5 169.9,326.6 170.4,326.7 171.0,326.8 171.5,327.0 172.0,327.1 172.6,327.3 173.1,327.5 173.6,327.6 174.2,327.8 174.7,328.0 175.2,328.2 175.8,328.4 176.3,328.6 176.8,328.8 177.4,328.9 177.9,329.1 178.4,329.3 179.0,329.4 179.5,329.6 180.0,329.7 180.6,329.8 181.1,329.9 181.6,330.0 182.2,330.0 182.7,330.1 183.2,330.1 183.8,330.1 184.3,330.1 184.8,330.0 185.4,330.0 185.9,330.0 186.5,329.9 187.0,329.9 187.5,329.9 188.1,329.8 188.6,329.8 189.1,329.7 189.7,329.6 190.2,329.6 190.7,329.5 191.3,329.5 191.8,329.4 192.3,329.3 192.9,329.3 193.4,329.2 193.9,329.1 194.5,329.1 195.0,329.0 195.5,329.0 196.1,328.9 196.6,328.8 197.1,328.8 197.7,328.8 198.2,328.7 198.7,328.7 199.3,328.7 199.8,328.7 200.3,328.6 200.9,328.6 201.4,328.6 201.9,328.6 202.5,328.7 203.0,328.7 203.5,328.7 204.1,328.7 204.6,328.7 205.1,328.8 205.7,328.8 206.2,328.8 206.8,328.9 207.3,328.9 207.8,328.9 208.4,329.0 208.9,329.0 209.4,329.0 210.0,329.1 210.5,329.1 211.0,329.1 211.6,329.2 212.1,329.2 212.6,329.2 213.2,329.3 213.7,329.3 214.2,329.3 214.8,329.3 215.3,329.3 215.8,329.3 216.4,329.4 216.9,329.4 217.4,329.4 218.0,329.4 218.5,329.4 219.0,329.4 219.6,329.4 220.1,329.4 220.6,329.4 221.2,329.4 221.7,329.4 222.2,329.4 222.8,329.4 223.3,329.4 223.8,329.4 224.4,329.4 224.9,329.4 225.4,329.4 226.0,329.4 226.5,329.4 227.1,329.4 227.6,329.4 228.1,329.4 228.7,329.4 229.2,329.4 229.7,329.4 230.3,329.4 230.8,329.4 231.3,329.4 231.9,329.4 232.4,329.4 232.9,329.4 233.5,329.4 234.0,329.4 234.5,329.4 235.1,329.4 235.6,329.4 236.1,329.4 236.7,329.4 237.2,329.4 237.7,329.4 238.3,329.4 238.8,329.4 239.3,329.4 239.9,329.4 240.4,329.4 240.9,329.4 241.5,329.4 242.0,329.4 242.5,329.4 243.1,329.4 243.6,329.4 244.1,329.4 244.7,329.4 245.2,329.4 245.7,329.4 246.3,329.4 246.8,329.4 247.4,329.4 247.9,329.4 248.4,329.4 249.0,329.4 249.5,329.4 250.0,329.4 250.6,329.4 251.1,329.4 251.6,329.4 252.2,329.4 252.7,329.4 253.2,329.4 253.8,329.4 254.3,329.4 254.8,329.4 255.4,329.4 255.9,329.4 256.4,329.4 257.0,329.4 257.5,329.4 258.0,329.4 258.6,329.4 259.1,329.4 259.6,329.4 260.2,329.4 260.7,329.4 261.2,329.4 261.8,329.4 262.3,329.4 262.8,329.4 263.4,329.4 263.9,329.4 264.4,329.4 265.0,329.4 265.5,329.4 266.0,329.4 266.6,329.4 267.1,329.4 267.7,329.4 268.2,329.4 268.7,329.4 269.3,329.4 269.8,329.4 270.3,329.4 270.9,329.4 271.4,329.4 271.9,329.4 272.5,329.4 273.0,329.4 273.5,329.4 274.1,329.4 274.6,329.4 275.1,329.4 275.7,329.4 276.2,329.4 276.7,329.4 277.3,329.4 277.8,329.4 278.3,329.4 278.9,329.4 279.4,329.4 279.9,329.4 280.5,329.4 281.0,329.4 281.5,329.4 282.1,329.4 282.6,329.4 283.1,329.4 283.7,329.4 284.2,329.4 284.7,329.4 285.3,329.4 285.8,329.4 286.3,329.4 286.9,329.4 287.4,329.4 288.0,329.4 288.5,329.4 289.0,329.4 289.6,329.4 290.1,329.4 290.6,329.4 291.2,329.4 291.7,329.4 292.2,329.4 292.8,329.4 293.3,329.4 293.8,329.4 294.4,329.4 294.9,329.4 295.4,329.4 296.0,329.4 296.5,329.4 297.0,329.4 297.6,329.4 298.1,329.4 298.6,329.4 299.2,329.4 299.7,329.4 300.2,329.4 300.8,329.4 301.3,329.4 301.8,329.4 302.4,329.4 302.9,329.4 303.4,329.4 304.0,329.4 304.5,329.4 305.0,329.4 305.6,329.4 306.1,329.4 306.6,329.4 307.2,329.4 307.7,329.4 308.3,329.4 308.8,329.4 309.3,329.4 309.9,329.4 310.4,329.4 310.9,329.4 311.5,329.4 312.0,329.4 312.5,329.4 313.1,329.4 313.6,329.4 314.1,329.4 314.7,329.4 315.2,329.4 315.7,329.4 316.3,329.4 316.8,329.4 317.3,329.4 317.9,329.4 318.4,329.4" fill="none" stroke="#1414d4" stroke-width="2.5" stroke-linejoin="round" stroke-opacity="1.0"/>
<polyline clip-path="url(#clipc)" points="51.3,342.5 51.8,343.9 52.4,345.3 52.9,346.6 53.4,347.9 54.0,349.1 54.5,350.3 55.0,351.5 55.6,352.6 56.1,353.7 56.6,354.7 57.2,355.7 57.7,356.6 58.2,357.5 58.8,358.3 59.3,359.1 59.8,359.8 60.4,360.5 60.9,361.2 61.4,361.8 62.0,362.3 62.5,362.8 63.1,363.3 63.6,363.7 64.1,364.0 64.7,364.3 65.2,364.5 65.7,364.7 66.3,364.9 66.8,364.9 67.3,365.0 67.9,364.9 68.4,364.7 68.9,364.4 69.5,364.1 70.0,363.6 70.5,363.0 71.1,362.4 71.6,361.7 72.1,360.9 72.7,360.1 73.2,359.3 73.7,358.4 74.3,357.5 74.8,356.5 75.3,355.6 75.9,354.6 76.4,353.7 76.9,352.8 77.5,351.9 78.0,351.0 78.5,350.1 79.1,349.3 79.6,348.6 80.1,347.9 80.7,347.3 81.2,346.8 81.7,346.3 82.3,346.0 82.8,345.7 83.4,345.6 83.9,345.5 84.4,345.6 85.0,345.7 85.5,345.9 86.0,346.1 86.6,346.3 87.1,346.5 87.6,346.8 88.2,347.1 88.7,347.4 89.2,347.8 89.8,348.2 90.3,348.5 90.8,348.9 91.4,349.3 91.9,349.7 92.4,350.1 93.0,350.5 93.5,350.9 94.0,351.3 94.6,351.7 95.1,352.1 95.6,352.4 96.2,352.7 96.7,353.0 97.2,353.3 97.8,353.5 98.3,353.8 98.8,353.9 99.4,354.1 99.9,354.2 100.4,354.2 101.0,354.2 101.5,354.2 102.0,354.1 102.6,353.9 103.1,353.7 103.7,353.5 104.2,353.3 104.7,353.0 105.3,352.7 105.8,352.3 106.3,352.0 106.9,351.6 107.4,351.2 107.9,350.8 108.5,350.3 109.0,349.9 109.5,349.4 110.1,349.0 110.6,348.5 111.1,348.1 111.7,347.7 112.2,347.2 112.7,346.8 113.3,346.4 113.8,346.0 114.3,345.6 114.9,345.3 115.4,345.0 115.9,344.7 116.5,344.4 117.0,344.2 117.5,344.0 118.1,343.9 118.6,343.8 119.1,343.8 119.7,343.8 120.2,343.9 120.7,343.9 121.3,344.0 121.8,344.1 122.3,344.2 122.9,344.4 123.4,344.5 124.0,344.7 124.5,344.9 125.0,345.1 125.6,345.3 126.1,345.5 126.6,345.7 127.2,345.9 127.7,346.1 128.2,346.3 128.8,346.5 129.3,346.7 129.8,346.8 130.4,347.0 130.9,347.1 131.4,347.2 132.0,347.4 132.5,347.4 133.0,347.5 133.6,347.5 134.1,347.5 134.6,347.5 135.2,347.4 135.7,347.4 136.2,347.3 136.8,347.2 137.3,347.0 137.8,346.9 138.4,346.7 138.9,346.6 139.4,346.4 140.0,346.2 140.5,346.0 141.0,345.8 141.6,345.6 142.1,345.4 142.6,345.2 143.2,345.0 143.7,344.8 144.3,344.6 144.8,344.4 145.3,344.2 145.9,344.1 146.4,343.9 146.9,343.8 147.5,343.6 148.0,343.5 148.5,343.4 149.1,343.3 149.6,343.3 150.1,343.2 150.7,343.2 151.2,343.2 151.7,343.2 152.3,343.2 152.8,343.3 153.3,343.3 153.9,343.3 154.4,343.3 154.9,343.4 155.5,343.4 156.0,343.5 156.5,343.5 157.1,343.5 157.6,343.6 158.1,343.6 158.7,343.7 159.2,343.7 159.7,343.8 160.3,343.8 160.8,343.9 161.3,343.9 161.9,344.0 162.4,344.0 162.9,344.0 163.5,344.1 164.0,344.1 164.6,344.1 165.1,344.1 165.6,344.2 166.2,344.2 166.7,344.2 167.2,344.2 167.8,344.2 168.3,344.2 168.8,344.1 169.4,344.1 169.9,344.1 170.4,344.0 171.0,344.0 171.5,343.9 172.0,343.9 172.6,343.8 173.1,343.8 173.6,343.7 174.2,343.7 174.7,343.6 175.2,343.6 175.8,343.5 176.3,343.4 176.8,343.4 177.4,343.3 177.9,343.3 178.4,343.2 179.0,343.2 179.5,343.1 180.0,343.1 180.6,343.1 181.1,343.0 181.6,343.0 182.2,343.0 182.7,343.0 183.2,343.0 183.8,343.0 184.3,343.0 184.8,343.0 185.4,343.0 185.9,343.0 186.5,343.0 187.0,343.0 187.5,343.0 188.1,343.1 188.6,343.1 189.1,343.1 189.7,343.1 190.2,343.1 190.7,343.2 191.3,343.2 191.8,343.2 192.3,343.2 192.9,343.2 193.4,343.3 193.9,343.3 194.5,343.3 195.0,343.3 195.5,343.4 196.1,343.4 196.6,343.4 197.1,343.4 197.7,343.4 198.2,343.4 198.7,343.4 199.3,343.4 199.8,343.5 200.3,343.5 200.9,343.5 201.4,343.5 201.9,343.4 202.5,343.4 203.0,343.4 203.5,343.4 204.1,343.4 204.6,343.4 205.1,343.3 205.7,343.3 206.2,343.3 206.8,343.2 207.3,343.2 207.8,343.2 208.4,343.1 208.9,343.1 209.4,343.1 210.0,343.0 210.5,343.0 211.0,343.0 211.6,342.9 212.1,342.9 212.6,342.9 213.2,342.8 213.7,342.8 214.2,342.8 214.8,342.8 215.3,342.8 215.8,342.7 216.4,342.7 216.9,342.7 217.4,342.7 218.0,342.7 218.5,342.7 219.0,342.7 219.6,342.7 220.1,342.7 220.6,342.7 221.2,342.7 221.7,342.7 222.2,342.7 222.8,342.7 223.3,342.7 223.8,342.7 224.4,342.7 224.9,342.7 225.4,342.7 226.0,342.7 226.5,342.7 227.1,342.7 227.6,342.7 228.1,342.7 228.7,342.7 229.2,342.7 229.7,342.7 230.3,342.7 230.8,342.7 231.3,342.7 231.9,342.7 232.4,342.7 232.9,342.7 233.5,342.7 234.0,342.7 234.5,342.7 235.1,342.7 235.6,342.7 236.1,342.7 236.7,342.7 237.2,342.7 237.7,342.7 238.3,342.7 238.8,342.7 239.3,342.7 239.9,342.7 240.4,342.7 240.9,342.7 241.5,342.7 242.0,342.7 242.5,342.7 243.1,342.8 243.6,342.8 244.1,342.8 244.7,342.8 245.2,342.8 245.7,342.8 246.3,342.8 246.8,342.8 247.4,342.8 247.9,342.8 248.4,342.8 249.0,342.8 249.5,342.8 250.0,342.8 250.6,342.8 251.1,342.8 251.6,342.8 252.2,342.8 252.7,342.8 253.2,342.8 253.8,342.8 254.3,342.8 254.8,342.8 255.4,342.8 255.9,342.8 256.4,342.8 257.0,342.8 257.5,342.8 258.0,342.8 258.6,342.8 259.1,342.8 259.6,342.8 260.2,342.8 260.7,342.8 261.2,342.8 261.8,342.8 262.3,342.8 262.8,342.8 263.4,342.8 263.9,342.8 264.4,342.8 265.0,342.8 265.5,342.8 266.0,342.8 266.6,342.8 267.1,342.8 267.7,342.8 268.2,342.8 268.7,342.8 269.3,342.8 269.8,342.8 270.3,342.8 270.9,342.8 271.4,342.8 271.9,342.8 272.5,342.8 273.0,342.8 273.5,342.8 274.1,342.8 274.6,342.8 275.1,342.8 275.7,342.8 276.2,342.8 276.7,342.8 277.3,342.8 277.8,342.8 278.3,342.8 278.9,342.8 279.4,342.8 279.9,342.8 280.5,342.8 281.0,342.8 281.5,342.8 282.1,342.8 282.6,342.8 283.1,342.8 283.7,342.8 284.2,342.8 284.7,342.8 285.3,342.8 285.8,342.8 286.3,342.8 286.9,342.8 287.4,342.8 288.0,342.8 288.5,342.8 289.0,342.8 289.6,342.8 290.1,342.8 290.6,342.8 291.2,342.8 291.7,342.8 292.2,342.9 292.8,342.9 293.3,342.9 293.8,342.9 294.4,342.9 294.9,342.9 295.4,342.9 296.0,342.9 296.5,342.9 297.0,342.9 297.6,342.9 298.1,342.9 298.6,342.9 299.2,342.9 299.7,342.9 300.2,342.9 300.8,342.9 301.3,342.9 301.8,342.9 302.4,342.9 302.9,342.9 303.4,342.9 304.0,342.9 304.5,342.9 305.0,342.9 305.6,342.9 306.1,342.9 306.6,342.9 307.2,342.9 307.7,342.9 308.3,342.9 308.8,342.9 309.3,342.9 309.9,342.9 310.4,342.9 310.9,342.9 311.5,342.9 312.0,342.9 312.5,342.9 313.1,342.9 313.6,342.9 314.1,343.0 314.7,343.0 315.2,343.0 315.7,343.0 316.3,343.0 316.8,343.0 317.3,343.0 317.9,343.0 318.4,343.0" fill="none" stroke="#34b82c" stroke-width="2.5" stroke-linejoin="round" stroke-opacity="1.0"/>
<polyline clip-path="url(#clipd)" points="401.0,352.1 401.9,354.7 402.8,358.2 403.7,361.0 404.6,366.0 405.5,366.0 406.4,370.1 407.3,375.0 408.2,378.2 409.0,380.6 409.9,381.2 410.8,379.2 411.7,381.5 412.6,385.9 413.5,387.1 414.4,383.3 415.3,386.2 416.2,390.4 417.1,389.9 418.0,390.6 418.9,389.3 419.8,387.7 420.7,389.2 421.6,387.2 422.5,385.5 423.3,383.8 424.2,384.9 425.1,382.2 426.0,376.2 426.9,378.3 427.8,376.4 428.7,373.9 429.6,374.2 430.5,372.1 431.4,366.6 432.3,366.3 433.2,370.2 434.1,368.1 435.0,370.7 435.9,371.4 436.8,368.5 437.7,365.9 438.5,369.4 439.4,367.8 440.3,373.5 441.2,372.5 442.1,373.5 443.0,374.5 443.9,373.9 444.8,375.9 445.7,379.5 446.6,382.3 447.5,381.7 448.4,381.5 449.3,383.5 450.2,386.3 451.1,387.1 452.0,382.3 452.9,383.4 453.7,385.0 454.6,382.9 455.5,382.4 456.4,383.5 457.3,383.2 458.2,379.5 459.1,379.1 460.0,377.3 460.9,377.5 461.8,378.5 462.7,379.3 463.6,378.6 464.5,378.3 465.4,376.4 466.3,375.3 467.2,372.9 468.0,372.3 468.9,374.8 469.8,374.5 470.7,377.6 471.6,377.1 472.5,377.8 473.4,375.8 474.3,377.3 475.2,378.2 476.1,377.4 477.0,381.2 477.9,378.2 478.8,377.1 479.7,376.3 480.6,381.4 481.5,381.0 482.4,384.0 483.2,378.1 484.1,380.9 485.0,380.8 485.9,384.3 486.8,382.3 487.7,382.9 488.6,384.2 489.5,384.1 490.4,383.5 491.3,383.3 492.2,384.3 493.1,378.2 494.0,380.1 494.9,379.8 495.8,379.5 496.7,380.0 497.5,379.3 498.4,377.9 499.3,379.0 500.2,376.1 501.1,378.4 502.0,376.1 502.9,379.8 503.8,377.7 504.7,376.6 505.6,375.3 506.5,375.7 507.4,380.4 508.3,380.0 509.2,375.9 510.1,379.8 511.0,382.2 511.9,377.4 512.7,378.5 513.6,382.3 514.5,381.2 515.4,377.8 516.3,381.1 517.2,381.7 518.1,381.3 519.0,378.4 519.9,383.7 520.8,380.3 521.7,380.4 522.6,379.8 523.5,379.3 524.4,380.6 525.3,379.6 526.2,379.6 527.0,378.3 527.9,385.1 528.8,381.4 529.7,380.8 530.6,383.1 531.5,378.1 532.4,379.7 533.3,384.0 534.2,381.3 535.1,379.2 536.0,380.3 536.9,381.9 537.8,379.4 538.7,379.9 539.6,382.3 540.5,380.9 541.4,377.7 542.2,378.0 543.1,382.3 544.0,381.6 544.9,377.6 545.8,379.0 546.7,380.3 547.6,381.0 548.5,379.9 549.4,378.9 550.3,384.7 551.2,379.2 552.1,382.3 553.0,383.3 553.9,382.1 554.8,382.8 555.7,382.6 556.6,380.5 557.4,381.1 558.3,378.7 559.2,383.1 560.1,379.2 561.0,382.6 561.9,380.3 562.8,380.8 563.7,378.7 564.6,382.7 565.5,380.1 566.4,377.0 567.3,377.6 568.2,380.5 569.1,378.6 570.0,377.9 570.9,378.9 571.7,377.6 572.6,378.4 573.5,384.5 574.4,378.7 575.3,375.0 576.2,380.4 577.1,380.9 578.0,380.3 578.9,381.9 579.8,381.0 580.7,380.1 581.6,376.2 582.5,380.3 583.4,379.1 584.3,380.7 585.2,382.2 586.1,381.9 586.9,382.3 587.8,377.7 588.7,380.7 589.6,383.2 590.5,380.1 591.4,376.0 592.3,379.3 593.2,380.2 594.1,379.7 595.0,381.1 595.9,382.2 596.8,378.3 597.7,385.6 598.6,382.0 599.5,382.2 600.4,380.9 601.2,381.6 602.1,377.8 603.0,376.8 603.9,379.9 604.8,382.9 605.7,382.0 606.6,381.2 607.5,382.3 608.4,382.6 609.3,376.7 610.2,378.2 611.1,382.2 612.0,382.2 612.9,380.4 613.8,381.5 614.7,379.0 615.6,378.5 616.4,380.2 617.3,382.1 618.2,381.3 619.1,383.7 620.0,380.9 620.9,376.7 621.8,380.9 622.7,378.7 623.6,377.4 624.5,377.0 625.4,382.7 626.3,380.9 627.2,381.1 628.1,377.3 629.0,377.9 629.9,382.2 630.8,381.4 631.6,379.2 632.5,376.0 633.4,380.4 634.3,377.9 635.2,381.9 636.1,382.7 637.0,378.8 637.9,381.9 638.8,383.3 639.7,377.8 640.6,378.9 641.5,382.5 642.4,378.5 643.3,379.0 644.2,379.1 645.1,382.3 645.9,381.5 646.8,384.9 647.7,384.7 648.6,378.9 649.5,380.9 650.4,379.8 651.3,380.6 652.2,381.3 653.1,381.2 654.0,379.2 654.9,380.8 655.8,383.1 656.7,377.8 657.6,376.9 658.5,378.0 659.4,376.9 660.3,379.4 661.1,379.8 662.0,377.6 662.9,378.9 663.8,382.4 664.7,380.6 665.6,379.5 666.5,375.5" fill="none" stroke="#9f97d1" stroke-width="1.9" stroke-linejoin="round" stroke-opacity="1.0"/>
<polyline clip-path="url(#clipd)" points="401.0,351.4 401.5,353.4 402.1,355.4 402.6,357.3 403.2,359.2 403.7,361.0 404.3,362.8 404.8,364.5 405.3,366.2 405.9,367.8 406.4,369.3 407.0,370.8 407.5,372.3 408.0,373.6 408.6,375.0 409.1,376.2 409.7,377.4 410.2,378.6 410.8,379.6 411.3,380.6 411.8,381.5 412.4,382.4 412.9,383.2 413.5,383.9 414.0,384.6 414.5,385.2 415.1,385.7 415.6,386.1 416.2,386.5 416.7,386.7 417.3,386.9 417.8,387.1 418.3,387.1 418.9,387.0 419.4,386.8 420.0,386.5 420.5,386.1 421.0,385.6 421.6,385.0 422.1,384.3 422.7,383.5 423.2,382.7 423.8,381.8 424.3,380.9 424.8,379.9 425.4,378.9 425.9,377.9 426.5,376.9 427.0,375.9 427.5,374.9 428.1,373.9 428.6,372.9 429.2,372.0 429.7,371.1 430.3,370.3 430.8,369.5 431.3,368.8 431.9,368.2 432.4,367.7 433.0,367.3 433.5,367.0 434.0,366.8 434.6,366.7 435.1,366.7 435.7,366.9 436.2,367.0 436.8,367.3 437.3,367.6 437.8,368.0 438.4,368.4 438.9,368.8 439.5,369.3 440.0,369.9 440.6,370.5 441.1,371.1 441.6,371.7 442.2,372.3 442.7,373.0 443.3,373.7 443.8,374.3 444.3,375.0 444.9,375.7 445.4,376.4 446.0,377.0 446.5,377.6 447.1,378.2 447.6,378.8 448.1,379.4 448.7,379.9 449.2,380.3 449.8,380.7 450.3,381.1 450.8,381.4 451.4,381.7 451.9,381.8 452.5,382.0 453.0,382.0 453.6,382.0 454.1,381.9 454.6,381.8 455.2,381.6 455.7,381.4 456.3,381.1 456.8,380.8 457.3,380.5 457.9,380.1 458.4,379.7 459.0,379.3 459.5,378.9 460.1,378.5 460.6,378.1 461.1,377.6 461.7,377.2 462.2,376.7 462.8,376.3 463.3,375.9 463.8,375.5 464.4,375.1 464.9,374.7 465.5,374.4 466.0,374.1 466.6,373.8 467.1,373.6 467.6,373.4 468.2,373.2 468.7,373.1 469.3,373.0 469.8,373.0 470.4,373.1 470.9,373.1 471.4,373.2 472.0,373.3 472.5,373.5 473.1,373.6 473.6,373.8 474.1,374.0 474.7,374.2 475.2,374.5 475.8,374.7 476.3,375.0 476.9,375.2 477.4,375.5 477.9,375.8 478.5,376.0 479.0,376.3 479.6,376.6 480.1,376.9 480.6,377.1 481.2,377.4 481.7,377.7 482.3,377.9 482.8,378.1 483.4,378.4 483.9,378.6 484.4,378.7 485.0,378.9 485.5,379.0 486.1,379.2 486.6,379.3 487.1,379.3 487.7,379.3 488.2,379.3 488.8,379.3 489.3,379.3 489.9,379.2 490.4,379.1 490.9,379.0 491.5,378.9 492.0,378.7 492.6,378.6 493.1,378.4 493.6,378.3 494.2,378.1 494.7,377.9 495.3,377.7 495.8,377.5 496.4,377.3 496.9,377.2 497.4,377.0 498.0,376.8 498.5,376.6 499.1,376.5 499.6,376.4 500.1,376.2 500.7,376.1 501.2,376.0 501.8,376.0 502.3,375.9 502.9,375.9 503.4,375.9 503.9,375.9 504.5,375.9 505.0,376.0 505.6,376.0 506.1,376.1 506.7,376.1 507.2,376.2 507.7,376.3 508.3,376.4 508.8,376.5 509.4,376.6 509.9,376.7 510.4,376.8 511.0,377.0 511.5,377.1 512.1,377.2 512.6,377.3 513.2,377.4 513.7,377.5 514.2,377.6 514.8,377.7 515.3,377.8 515.9,377.9 516.4,378.0 516.9,378.1 517.5,378.2 518.0,378.2 518.6,378.3 519.1,378.3 519.7,378.3 520.2,378.3 520.7,378.3 521.3,378.3 521.8,378.3 522.4,378.3 522.9,378.3 523.4,378.3 524.0,378.3 524.5,378.3 525.1,378.3 525.6,378.3 526.2,378.3 526.7,378.3 527.2,378.3 527.8,378.3 528.3,378.3 528.9,378.3 529.4,378.3 529.9,378.3 530.5,378.3 531.0,378.3 531.6,378.3 532.1,378.3 532.7,378.3 533.2,378.3 533.7,378.3 534.3,378.3 534.8,378.3 535.4,378.3 535.9,378.3 536.5,378.3 537.0,378.3 537.5,378.3 538.1,378.3 538.6,378.3 539.2,378.3 539.7,378.3 540.2,378.3 540.8,378.3 541.3,378.3 541.9,378.3 542.4,378.3 543.0,378.3 543.5,378.3 544.0,378.3 544.6,378.3 545.1,378.3 545.7,378.3 546.2,378.3 546.7,378.3 547.3,378.3 547.8,378.3 548.4,378.3 548.9,378.3 549.5,378.3 550.0,378.3 550.5,378.3 551.1,378.3 551.6,378.3 552.2,378.3 552.7,378.3 553.2,378.3 553.8,378.3 554.3,378.3 554.9,378.3 555.4,378.3 556.0,378.3 556.5,378.3 557.0,378.3 557.6,378.3 558.1,378.3 558.7,378.3 559.2,378.3 559.7,378.3 560.3,378.3 560.8,378.3 561.4,378.3 561.9,378.3 562.5,378.3 563.0,378.3 563.5,378.3 564.1,378.3 564.6,378.3 565.2,378.3 565.7,378.3 566.2,378.3 566.8,378.3 567.3,378.3 567.9,378.3 568.4,378.3 569.0,378.3 569.5,378.3 570.0,378.3 570.6,378.3 571.1,378.3 571.7,378.3 572.2,378.3 572.8,378.3 573.3,378.3 573.8,378.3 574.4,378.3 574.9,378.3 575.5,378.3 576.0,378.3 576.5,378.3 577.1,378.3 577.6,378.3 578.2,378.3 578.7,378.3 579.3,378.3 579.8,378.3 580.3,378.3 580.9,378.3 581.4,378.3 582.0,378.3 582.5,378.3 583.0,378.3 583.6,378.3 584.1,378.3 584.7,378.3 585.2,378.3 585.8,378.3 586.3,378.3 586.8,378.3 587.4,378.3 587.9,378.3 588.5,378.3 589.0,378.3 589.5,378.3 590.1,378.3 590.6,378.3 591.2,378.3 591.7,378.3 592.3,378.3 592.8,378.3 593.3,378.3 593.9,378.3 594.4,378.3 595.0,378.3 595.5,378.3 596.0,378.3 596.6,378.3 597.1,378.3 597.7,378.3 598.2,378.3 598.8,378.3 599.3,378.3 599.8,378.3 600.4,378.3 600.9,378.3 601.5,378.3 602.0,378.3 602.5,378.3 603.1,378.3 603.6,378.3 604.2,378.3 604.7,378.3 605.3,378.3 605.8,378.3 606.3,378.3 606.9,378.3 607.4,378.3 608.0,378.2 608.5,378.2 609.1,378.2 609.6,378.2 610.1,378.2 610.7,378.2 611.2,378.2 611.8,378.2 612.3,378.2 612.8,378.2 613.4,378.2 613.9,378.2 614.5,378.2 615.0,378.2 615.6,378.2 616.1,378.2 616.6,378.2 617.2,378.2 617.7,378.2 618.3,378.2 618.8,378.2 619.3,378.2 619.9,378.2 620.4,378.2 621.0,378.2 621.5,378.2 622.1,378.2 622.6,378.2 623.1,378.2 623.7,378.2 624.2,378.2 624.8,378.2 625.3,378.2 625.8,378.2 626.4,378.2 626.9,378.2 627.5,378.2 628.0,378.2 628.6,378.2 629.1,378.2 629.6,378.2 630.2,378.2 630.7,378.2 631.3,378.2 631.8,378.2 632.3,378.2 632.9,378.2 633.4,378.2 634.0,378.2 634.5,378.2 635.1,378.2 635.6,378.1 636.1,378.1 636.7,378.1 637.2,378.1 637.8,378.1 638.3,378.1 638.9,378.1 639.4,378.1 639.9,378.1 640.5,378.1 641.0,378.1 641.6,378.1 642.1,378.1 642.6,378.1 643.2,378.1 643.7,378.1 644.3,378.1 644.8,378.1 645.4,378.1 645.9,378.1 646.4,378.1 647.0,378.1 647.5,378.1 648.1,378.1 648.6,378.1 649.1,378.1 649.7,378.1 650.2,378.1 650.8,378.1 651.3,378.1 651.9,378.1 652.4,378.1 652.9,378.1 653.5,378.1 654.0,378.0 654.6,378.0 655.1,378.0 655.6,378.0 656.2,378.0 656.7,378.0 657.3,378.0 657.8,378.0 658.4,378.0 658.9,378.0 659.4,378.0 660.0,378.0 660.5,378.0 661.1,378.0 661.6,378.0 662.1,378.0 662.7,378.0 663.2,378.0 663.8,378.0 664.3,378.0 664.9,378.0 665.4,378.0 665.9,378.0 666.5,378.0 667.0,378.0 667.6,378.0 668.1,377.9 668.6,377.9 669.2,377.9 669.7,377.9 670.3,377.9 670.8,377.9 671.4,377.9 671.9,377.9" fill="none" stroke="#9f97d1" stroke-width="2.8" stroke-linejoin="round" stroke-opacity="1.0"/>
<polyline clip-path="url(#clipd)" points="401.0,338.8 401.9,327.4 402.8,319.3 403.7,318.7 404.6,320.9 405.5,307.1 406.4,305.1 407.3,298.6 408.2,296.6 409.0,280.6 409.9,276.6 410.8,277.9 411.7,275.6 412.6,269.9 413.5,267.6 414.4,260.2 415.3,262.0 416.2,256.5 417.1,262.6 418.0,264.1 418.9,243.4 419.8,246.7 420.7,269.5 421.6,275.0 422.5,293.5 423.3,286.1 424.2,286.2 425.1,296.0 426.0,302.7 426.9,318.2 427.8,309.1 428.7,314.1 429.6,326.0 430.5,314.6 431.4,334.2 432.3,340.4 433.2,341.9 434.1,332.2 435.0,329.6 435.9,328.7 436.8,332.0 437.7,332.4 438.5,321.5 439.4,328.0 440.3,326.3 441.2,308.7 442.1,310.8 443.0,306.1 443.9,302.0 444.8,305.3 445.7,301.8 446.6,292.6 447.5,296.1 448.4,289.2 449.3,290.0 450.2,294.6 451.1,283.5 452.0,295.0 452.9,287.9 453.7,288.4 454.6,283.9 455.5,298.2 456.4,297.4 457.3,296.1 458.2,295.9 459.1,294.6 460.0,300.2 460.9,304.1 461.8,300.3 462.7,297.6 463.6,318.5 464.5,313.9 465.4,310.8 466.3,315.0 467.2,309.2 468.0,319.6 468.9,323.6 469.8,314.4 470.7,332.0 471.6,319.1 472.5,301.6 473.4,312.6 474.3,311.3 475.2,317.1 476.1,311.1 477.0,309.1 477.9,297.8 478.8,313.2 479.7,320.9 480.6,303.1 481.5,295.2 482.4,307.6 483.2,314.5 484.1,309.8 485.0,301.2 485.9,306.2 486.8,304.7 487.7,318.0 488.6,308.4 489.5,301.0 490.4,307.6 491.3,312.4 492.2,301.5 493.1,302.4 494.0,311.9 494.9,314.1 495.8,304.1 496.7,314.4 497.5,312.7 498.4,302.5 499.3,311.8 500.2,317.7 501.1,326.0 502.0,315.1 502.9,315.1 503.8,317.4 504.7,309.5 505.6,321.5 506.5,323.5 507.4,318.2 508.3,313.8 509.2,321.4 510.1,319.6 511.0,316.5 511.9,311.5 512.7,313.7 513.6,305.3 514.5,321.4 515.4,307.7 516.3,311.4 517.2,304.6 518.1,295.9 519.0,306.9 519.9,305.9 520.8,303.1 521.7,314.6 522.6,304.1 523.5,302.9 524.4,308.3 525.3,304.8 526.2,308.3 527.0,314.5 527.9,317.5 528.8,304.3 529.7,300.2 530.6,314.8 531.5,310.4 532.4,319.1 533.3,315.9 534.2,316.2 535.1,319.6 536.0,313.2 536.9,306.6 537.8,309.1 538.7,314.6 539.6,304.1 540.5,309.3 541.4,301.8 542.2,317.0 543.1,295.5 544.0,311.3 544.9,318.6 545.8,317.1 546.7,305.0 547.6,303.9 548.5,304.4 549.4,306.3 550.3,316.0 551.2,312.0 552.1,323.5 553.0,315.2 553.9,306.6 554.8,318.8 555.7,295.4 556.6,301.1 557.4,315.1 558.3,305.5 559.2,306.4 560.1,310.8 561.0,307.7 561.9,312.9 562.8,312.1 563.7,309.1 564.6,309.8 565.5,311.2 566.4,311.2 567.3,307.8 568.2,309.6 569.1,321.3 570.0,318.7 570.9,305.2 571.7,304.0 572.6,310.4 573.5,315.3 574.4,309.2 575.3,310.6 576.2,323.1 577.1,315.4 578.0,322.8 578.9,317.7 579.8,313.4 580.7,305.1 581.6,326.2 582.5,317.1 583.4,310.0 584.3,309.5 585.2,309.3 586.1,319.8 586.9,315.8 587.8,316.4 588.7,306.7 589.6,314.4 590.5,314.1 591.4,313.8 592.3,321.7 593.2,312.4 594.1,320.5 595.0,314.1 595.9,317.9 596.8,307.4 597.7,312.4 598.6,303.8 599.5,326.0 600.4,306.7 601.2,308.2 602.1,310.9 603.0,301.6 603.9,321.6 604.8,313.1 605.7,306.3 606.6,310.2 607.5,315.9 608.4,310.7 609.3,316.6 610.2,316.8 611.1,317.9 612.0,308.1 612.9,310.5 613.8,298.5 614.7,308.6 615.6,322.3 616.4,310.7 617.3,320.5 618.2,316.4 619.1,314.1 620.0,321.0 620.9,318.1 621.8,318.4 622.7,313.7 623.6,314.6 624.5,314.0 625.4,303.6 626.3,309.8 627.2,310.7 628.1,306.4 629.0,301.6 629.9,305.3 630.8,319.5 631.6,311.1 632.5,308.7 633.4,308.0 634.3,314.4 635.2,314.2 636.1,319.6 637.0,317.4 637.9,320.7 638.8,307.2 639.7,317.1 640.6,319.8 641.5,312.7 642.4,313.6 643.3,318.0 644.2,312.4 645.1,317.4 645.9,311.3 646.8,313.8 647.7,312.9 648.6,316.5 649.5,318.1 650.4,313.6 651.3,322.7 652.2,306.6 653.1,314.9 654.0,301.2 654.9,308.8 655.8,314.4 656.7,317.3 657.6,310.8 658.5,310.6 659.4,310.6 660.3,308.4 661.1,312.1 662.0,307.2 662.9,318.0 663.8,315.1 664.7,310.5 665.6,318.2 666.5,314.3" fill="none" stroke="#eca52c" stroke-width="1.9" stroke-linejoin="round" stroke-opacity="1.0"/>
<polyline clip-path="url(#clipd)" points="401.0,351.4 401.5,346.0 402.1,340.7 402.6,335.6 403.2,330.7 403.7,325.9 404.3,321.4 404.8,317.1 405.3,313.0 405.9,309.1 406.4,305.3 407.0,301.7 407.5,298.2 408.0,294.9 408.6,291.8 409.1,288.8 409.7,286.0 410.2,283.4 410.8,280.6 411.3,277.8 411.8,274.9 412.4,272.2 412.9,269.7 413.5,267.5 414.0,265.8 414.5,264.5 415.1,263.8 415.6,263.7 416.2,264.0 416.7,264.5 417.3,265.3 417.8,266.4 418.3,267.6 418.9,269.0 419.4,270.7 420.0,272.5 420.5,274.4 421.0,276.5 421.6,278.8 422.1,281.1 422.7,283.5 423.2,286.0 423.8,288.6 424.3,291.2 424.8,293.9 425.4,296.5 425.9,299.2 426.5,301.8 427.0,304.4 427.5,307.0 428.1,309.5 428.6,311.9 429.2,314.3 429.7,316.5 430.3,318.6 430.8,320.6 431.3,322.4 431.9,324.0 432.4,325.4 433.0,326.7 433.5,327.7 434.0,328.5 434.6,329.1 435.1,329.3 435.7,329.3 436.2,329.1 436.8,328.5 437.3,327.8 437.8,326.8 438.4,325.6 438.9,324.3 439.5,322.8 440.0,321.2 440.6,319.4 441.1,317.6 441.6,315.7 442.2,313.8 442.7,311.8 443.3,309.8 443.8,307.8 444.3,305.9 444.9,304.0 445.4,302.2 446.0,300.4 446.5,298.8 447.1,297.3 447.6,296.0 448.1,294.8 448.7,293.8 449.2,293.1 449.8,292.5 450.3,292.3 450.8,292.3 451.4,292.4 451.9,292.7 452.5,293.1 453.0,293.7 453.6,294.4 454.1,295.1 454.6,296.0 455.2,296.9 455.7,298.0 456.3,299.0 456.8,300.2 457.3,301.4 457.9,302.6 458.4,303.8 459.0,305.1 459.5,306.3 460.1,307.6 460.6,308.8 461.1,310.1 461.7,311.2 462.2,312.4 462.8,313.5 463.3,314.5 463.8,315.4 464.4,316.3 464.9,317.1 465.5,317.7 466.0,318.3 466.6,318.7 467.1,319.0 467.6,319.1 468.2,319.2 468.7,319.1 469.3,318.9 469.8,318.6 470.4,318.3 470.9,317.8 471.4,317.4 472.0,316.8 472.5,316.3 473.1,315.6 473.6,315.0 474.1,314.3 474.7,313.6 475.2,312.8 475.8,312.1 476.3,311.3 476.9,310.6 477.4,309.9 477.9,309.2 478.5,308.5 479.0,307.8 479.6,307.2 480.1,306.6 480.6,306.1 481.2,305.6 481.7,305.2 482.3,304.8 482.8,304.6 483.4,304.4 483.9,304.3 484.4,304.3 485.0,304.3 485.5,304.5 486.1,304.6 486.6,304.9 487.1,305.1 487.7,305.4 488.2,305.8 488.8,306.2 489.3,306.6 489.9,307.0 490.4,307.5 490.9,308.0 491.5,308.5 492.0,309.0 492.6,309.5 493.1,310.1 493.6,310.6 494.2,311.1 494.7,311.6 495.3,312.1 495.8,312.6 496.4,313.1 496.9,313.6 497.4,314.0 498.0,314.4 498.5,314.8 499.1,315.1 499.6,315.4 500.1,315.6 500.7,315.8 501.2,316.0 501.8,316.1 502.3,316.1 502.9,316.1 503.4,316.0 503.9,315.9 504.5,315.8 505.0,315.7 505.6,315.5 506.1,315.3 506.7,315.1 507.2,314.8 507.7,314.5 508.3,314.3 508.8,314.0 509.4,313.7 509.9,313.3 510.4,313.0 511.0,312.7 511.5,312.4 512.1,312.1 512.6,311.7 513.2,311.4 513.7,311.1 514.2,310.8 514.8,310.5 515.3,310.3 515.9,310.0 516.4,309.8 516.9,309.6 517.5,309.4 518.0,309.3 518.6,309.1 519.1,309.0 519.7,309.0 520.2,309.0 520.7,309.0 521.3,309.0 521.8,309.1 522.4,309.2 522.9,309.4 523.4,309.6 524.0,309.8 524.5,310.0 525.1,310.2 525.6,310.4 526.2,310.7 526.7,311.0 527.2,311.3 527.8,311.5 528.3,311.8 528.9,312.1 529.4,312.4 529.9,312.7 530.5,312.9 531.0,313.2 531.6,313.4 532.1,313.7 532.7,313.9 533.2,314.1 533.7,314.3 534.3,314.4 534.8,314.5 535.4,314.6 535.9,314.7 536.5,314.7 537.0,314.7 537.5,314.6 538.1,314.6 538.6,314.5 539.2,314.5 539.7,314.4 540.2,314.3 540.8,314.2 541.3,314.1 541.9,314.0 542.4,313.8 543.0,313.7 543.5,313.5 544.0,313.4 544.6,313.3 545.1,313.1 545.7,313.0 546.2,312.8 546.7,312.7 547.3,312.5 547.8,312.4 548.4,312.3 548.9,312.2 549.5,312.1 550.0,312.0 550.5,311.9 551.1,311.8 551.6,311.7 552.2,311.7 552.7,311.6 553.2,311.6 553.8,311.6 554.3,311.6 554.9,311.7 555.4,311.7 556.0,311.8 556.5,311.8 557.0,311.9 557.6,312.0 558.1,312.0 558.7,312.1 559.2,312.2 559.7,312.3 560.3,312.5 560.8,312.6 561.4,312.7 561.9,312.8 562.5,312.9 563.0,313.0 563.5,313.2 564.1,313.3 564.6,313.4 565.2,313.5 565.7,313.6 566.2,313.7 566.8,313.8 567.3,313.9 567.9,314.0 568.4,314.0 569.0,314.1 569.5,314.2 570.0,314.2 570.6,314.2 571.1,314.3 571.7,314.3 572.2,314.3 572.8,314.3 573.3,314.3 573.8,314.3 574.4,314.3 574.9,314.3 575.5,314.3 576.0,314.3 576.5,314.3 577.1,314.3 577.6,314.3 578.2,314.3 578.7,314.3 579.3,314.3 579.8,314.3 580.3,314.3 580.9,314.3 581.4,314.3 582.0,314.3 582.5,314.3 583.0,314.3 583.6,314.3 584.1,314.3 584.7,314.3 585.2,314.3 585.8,314.3 586.3,314.3 586.8,314.3 587.4,314.3 587.9,314.3 588.5,314.3 589.0,314.3 589.5,314.3 590.1,314.3 590.6,314.3 591.2,314.3 591.7,314.3 592.3,314.3 592.8,314.3 593.3,314.3 593.9,314.3 594.4,314.3 595.0,314.3 595.5,314.3 596.0,314.3 596.6,314.3 597.1,314.3 597.7,314.3 598.2,314.3 598.8,314.3 599.3,314.3 599.8,314.3 600.4,314.3 600.9,314.3 601.5,314.3 602.0,314.3 602.5,314.3 603.1,314.3 603.6,314.3 604.2,314.3 604.7,314.3 605.3,314.2 605.8,314.2 606.3,314.2 606.9,314.2 607.4,314.2 608.0,314.2 608.5,314.2 609.1,314.2 609.6,314.2 610.1,314.2 610.7,314.2 611.2,314.2 611.8,314.2 612.3,314.2 612.8,314.2 613.4,314.2 613.9,314.2 614.5,314.2 615.0,314.2 615.6,314.2 616.1,314.2 616.6,314.2 617.2,314.2 617.7,314.2 618.3,314.2 618.8,314.2 619.3,314.2 619.9,314.2 620.4,314.2 621.0,314.2 621.5,314.2 622.1,314.2 622.6,314.2 623.1,314.2 623.7,314.2 624.2,314.2 624.8,314.2 625.3,314.2 625.8,314.2 626.4,314.2 626.9,314.2 627.5,314.2 628.0,314.2 628.6,314.2 629.1,314.2 629.6,314.2 630.2,314.2 630.7,314.1 631.3,314.1 631.8,314.1 632.3,314.1 632.9,314.1 633.4,314.1 634.0,314.1 634.5,314.1 635.1,314.1 635.6,314.1 636.1,314.1 636.7,314.1 637.2,314.1 637.8,314.1 638.3,314.1 638.9,314.1 639.4,314.1 639.9,314.1 640.5,314.1 641.0,314.1 641.6,314.1 642.1,314.1 642.6,314.1 643.2,314.0 643.7,314.0 644.3,314.0 644.8,314.0 645.4,314.0 645.9,314.0 646.4,314.0 647.0,314.0 647.5,314.0 648.1,314.0 648.6,314.0 649.1,314.0 649.7,314.0 650.2,314.0 650.8,314.0 651.3,314.0 651.9,314.0 652.4,314.0 652.9,313.9 653.5,313.9 654.0,313.9 654.6,313.9 655.1,313.9 655.6,313.9 656.2,313.9 656.7,313.9 657.3,313.9 657.8,313.9 658.4,313.9 658.9,313.9 659.4,313.9 660.0,313.9 660.5,313.8 661.1,313.8 661.6,313.8 662.1,313.8 662.7,313.8 663.2,313.8 663.8,313.8 664.3,313.8 664.9,313.8 665.4,313.8 665.9,313.8 666.5,313.8 667.0,313.7 667.6,313.7 668.1,313.7 668.6,313.7 669.2,313.7 669.7,313.7 670.3,313.7 670.8,313.7 671.4,313.7 671.9,313.7" fill="none" stroke="#eca52c" stroke-width="2.8" stroke-linejoin="round" stroke-opacity="1.0"/>
<path d="M49.50,178.00V172.00M49.50,10.90V16.90M103.26,178.00V172.00M103.26,10.90V16.90M157.02,178.00V172.00M157.02,10.90V16.90M210.78,178.00V172.00M210.78,10.90V16.90M264.54,178.00V172.00M264.54,10.90V16.90M318.30,178.00V172.00M318.30,10.90V16.90M49.50,159.00H55.50M318.30,159.00H312.30M49.50,122.00H55.50M318.30,122.00H312.30M49.50,85.00H55.50M318.30,85.00H312.30M49.50,48.00H55.50M318.30,48.00H312.30" stroke="#000" stroke-width="1.7" fill="none"/>
<rect x="49.5" y="10.9" width="268.80" height="167.10" fill="none" stroke="#000" stroke-width="1.7"/>
<text x="45.61" y="192.80" font-size="14">0</text>
<text x="95.47" y="192.80" font-size="14">20</text>
<text x="149.23" y="192.80" font-size="14">40</text>
<text x="202.99" y="192.80" font-size="14">60</text>
<text x="256.75" y="192.80" font-size="14">80</text>
<path d="M515,0L515,1237L197,1010L197,1180L530,1409L696,1409L696,0Z" transform="translate(306.62,192.80) scale(0.00684,-0.00684)"/><text x="314.41" y="192.80" font-size="14">00</text>
<path d="M101,440L1096,440L1096,590L101,590Z" transform="translate(31.54,164.00) scale(0.00684,-0.00684)"/><path d="M515,0L515,1237L197,1010L197,1180L530,1409L696,1409L696,0Z" transform="translate(39.71,164.00) scale(0.00684,-0.00684)"/>
<text x="39.71" y="127.00" font-size="14">0</text>
<path d="M515,0L515,1237L197,1010L197,1180L530,1409L696,1409L696,0Z" transform="translate(39.71,90.00) scale(0.00684,-0.00684)"/>
<text x="39.71" y="53.00" font-size="14">2</text>
<text x="183.90" y="213.80" text-anchor="middle" font-size="15.5">Time (ms)</text>
<path d="M401.20,177.90V171.90M401.20,10.90V16.90M455.34,177.90V171.90M455.34,10.90V16.90M509.48,177.90V171.90M509.48,10.90V16.90M563.62,177.90V171.90M563.62,10.90V16.90M617.76,177.90V171.90M617.76,10.90V16.90M671.90,177.90V171.90M671.90,10.90V16.90M401.20,144.20H407.20M671.90,144.20H665.90M401.20,91.20H407.20M671.90,91.20H665.90M401.20,38.20H407.20M671.90,38.20H665.90" stroke="#000" stroke-width="1.7" fill="none"/>
<rect x="401.2" y="10.9" width="270.70" height="167.00" fill="none" stroke="#000" stroke-width="1.7"/>
<text x="397.31" y="192.70" font-size="14">0</text>
<text x="447.55" y="192.70" font-size="14">20</text>
<text x="501.69" y="192.70" font-size="14">40</text>
<text x="555.83" y="192.70" font-size="14">60</text>
<text x="609.97" y="192.70" font-size="14">80</text>
<path d="M515,0L515,1237L197,1010L197,1180L530,1409L696,1409L696,0Z" transform="translate(660.22,192.70) scale(0.00684,-0.00684)"/><text x="668.01" y="192.70" font-size="14">00</text>
<path d="M101,440L1096,440L1096,590L101,590Z" transform="translate(383.24,149.20) scale(0.00684,-0.00684)"/><text x="391.41" y="149.20" font-size="14">2</text>
<text x="391.41" y="96.20" font-size="14">0</text>
<text x="391.41" y="43.20" font-size="14">2</text>
<text x="536.55" y="213.70" text-anchor="middle" font-size="15.5">Time (ms)</text>
<path d="M51.30,402.00V396.00M51.30,235.70V241.70M104.72,402.00V396.00M104.72,235.70V241.70M158.14,402.00V396.00M158.14,235.70V241.70M211.56,402.00V396.00M211.56,235.70V241.70M264.98,402.00V396.00M264.98,235.70V241.70M318.40,402.00V396.00M318.40,235.70V241.70M51.30,390.30H57.30M318.40,390.30H312.40M51.30,342.50H57.30M318.40,342.50H312.40M51.30,294.70H57.30M318.40,294.70H312.40M51.30,246.90H57.30M318.40,246.90H312.40" stroke="#000" stroke-width="1.7" fill="none"/>
<rect x="51.3" y="235.7" width="267.10" height="166.30" fill="none" stroke="#000" stroke-width="1.7"/>
<text x="47.41" y="416.80" font-size="14">0</text>
<text x="96.93" y="416.80" font-size="14">20</text>
<text x="150.35" y="416.80" font-size="14">40</text>
<text x="203.77" y="416.80" font-size="14">60</text>
<text x="257.19" y="416.80" font-size="14">80</text>
<path d="M515,0L515,1237L197,1010L197,1180L530,1409L696,1409L696,0Z" transform="translate(306.72,416.80) scale(0.00684,-0.00684)"/><text x="314.51" y="416.80" font-size="14">00</text>
<path d="M101,440L1096,440L1096,590L101,590Z" transform="translate(33.34,395.30) scale(0.00684,-0.00684)"/><text x="41.51" y="395.30" font-size="14">2</text>
<text x="41.51" y="347.50" font-size="14">0</text>
<text x="41.51" y="299.70" font-size="14">2</text>
<text x="41.51" y="251.90" font-size="14">4</text>
<text x="184.85" y="437.80" text-anchor="middle" font-size="15.5">Time (ms)</text>
<path d="M401.00,402.20V396.20M401.00,235.50V241.50M455.18,402.20V396.20M455.18,235.50V241.50M509.36,402.20V396.20M509.36,235.50V241.50M563.54,402.20V396.20M563.54,235.50V241.50M617.72,402.20V396.20M617.72,235.50V241.50M671.90,402.20V396.20M671.90,235.50V241.50M401.00,392.20H407.00M671.90,392.20H665.90M401.00,351.40H407.00M671.90,351.40H665.90M401.00,310.60H407.00M671.90,310.60H665.90M401.00,269.80H407.00M671.90,269.80H665.90" stroke="#000" stroke-width="1.7" fill="none"/>
<rect x="401.0" y="235.5" width="270.90" height="166.70" fill="none" stroke="#000" stroke-width="1.7"/>
<text x="397.11" y="417.00" font-size="14">0</text>
<text x="447.39" y="417.00" font-size="14">20</text>
<text x="501.57" y="417.00" font-size="14">40</text>
<text x="555.75" y="417.00" font-size="14">60</text>
<text x="609.93" y="417.00" font-size="14">80</text>
<path d="M515,0L515,1237L197,1010L197,1180L530,1409L696,1409L696,0Z" transform="translate(660.22,417.00) scale(0.00684,-0.00684)"/><text x="668.01" y="417.00" font-size="14">00</text>
<path d="M101,440L1096,440L1096,590L101,590Z" transform="translate(383.04,397.20) scale(0.00684,-0.00684)"/><text x="391.21" y="397.20" font-size="14">2</text>
<text x="391.21" y="356.40" font-size="14">0</text>
<text x="391.21" y="315.60" font-size="14">2</text>
<text x="391.21" y="274.80" font-size="14">4</text>
<text x="536.45" y="438.00" text-anchor="middle" font-size="15.5">Time (ms)</text>
<text x="0.0" y="16" font-size="21" letter-spacing="0.35">(a)</text>
<text x="353.2" y="16" font-size="21" letter-spacing="0.35">(b)</text>
<text x="0.0" y="239.3" font-size="21" letter-spacing="0.35">(c)</text>
<text x="353.2" y="239.3" font-size="21" letter-spacing="0.35">(d)</text>
<text transform="translate(19.8,102.8) rotate(-90)" text-anchor="middle" font-size="16.8">Entropy rate (Hz)</text>
<text transform="translate(19.8,328.1) rotate(-90)" text-anchor="middle" font-size="16.8">Entropy rate (Hz)</text>
<g transform="translate(374.6,148.4) rotate(-90)" font-size="16.3"><text x="-0.9" y="0" font-size="17.2">Φ</text><path d="M515,0L515,1237L197,1010L197,1180L530,1409L696,1409L696,0Z" transform="translate(12.10,2.20) scale(0.00537,-0.00537)"/><text x="18.22" y="2.20" font-size="11">,2</text><text x="28.4" y="0">/2</text><text x="44.0" y="0" font-size="17.3" font-style="italic">π</text><text x="61.3" y="0">(Hz)</text></g>
<g transform="translate(374.9,373.9) rotate(-90)" font-size="16.3"><text x="-0.9" y="0" font-size="17.2">Φ</text><path d="M515,0L515,1237L197,1010L197,1180L530,1409L696,1409L696,0Z" transform="translate(12.10,2.20) scale(0.00537,-0.00537)"/><text x="18.22" y="2.20" font-size="11">,2</text><text x="28.4" y="0">/2</text><text x="44.0" y="0" font-size="17.3" font-style="italic">π</text><text x="61.3" y="0">(Hz)</text></g>
<line x1="261.8" y1="30.9" x2="271.3" y2="30.9" stroke="#b01a1a" stroke-width="2.2"/>
<text x="274.6" y="36.1" font-size="14.5"><tspan font-size="14.6">Π</tspan></text>
<line x1="261.8" y1="46.349999999999994" x2="271.3" y2="46.349999999999994" stroke="#1414d4" stroke-width="2.2"/>
<text x="274.6" y="51.55" font-size="14.5"><tspan font-size="15.2">Φ</tspan></text>
<line x1="261.8" y1="61.8" x2="271.3" y2="61.8" stroke="#34b82c" stroke-width="2.2"/>
<text x="274.6" y="67.0" font-size="14.5">dS/dt</text>
<line x1="261.8" y1="256.5" x2="271.3" y2="256.5" stroke="#b01a1a" stroke-width="2.2"/>
<text x="274.6" y="261.5" font-size="14.5"><tspan font-size="14.6">Π</tspan></text>
<line x1="261.8" y1="272.1" x2="271.3" y2="272.1" stroke="#1414d4" stroke-width="2.2"/>
<text x="274.6" y="277.1" font-size="14.5"><tspan font-size="15.2">Φ</tspan></text>
<line x1="261.8" y1="287.7" x2="271.3" y2="287.7" stroke="#34b82c" stroke-width="2.2"/>
<text x="274.6" y="292.7" font-size="14.5"><tspan font-size="14.8">dS/dt</tspan></text>
<line x1="620.0" y1="71.8" x2="629.5" y2="71.8" stroke="#9f97d1" stroke-width="2.0"/>
<text x="634.20" y="77.90" font-size="16.2">Φ</text>
<path d="M515,0L515,1237L197,1010L197,1180L530,1409L696,1409L696,0Z" transform="translate(646.73,80.70) scale(0.00537,-0.00537)"/>
<line x1="620.0" y1="87.8" x2="629.5" y2="87.8" stroke="#eca52c" stroke-width="2.0"/>
<text x="634.20" y="93.90" font-size="16.2">Φ</text>
<text x="646.73" y="96.70" font-size="11">2</text>
<line x1="619.9" y1="265.0" x2="629.4" y2="265.0" stroke="#9f97d1" stroke-width="2.0"/>
<text x="634.10" y="271.10" font-size="16.2">Φ</text>
<path d="M515,0L515,1237L197,1010L197,1180L530,1409L696,1409L696,0Z" transform="translate(646.63,273.90) scale(0.00537,-0.00537)"/>
<line x1="619.9" y1="281.0" x2="629.4" y2="281.0" stroke="#eca52c" stroke-width="2.0"/>
<text x="634.10" y="287.10" font-size="16.2">Φ</text>
<text x="646.63" y="289.90" font-size="11">2</text></svg>
</body></html>
